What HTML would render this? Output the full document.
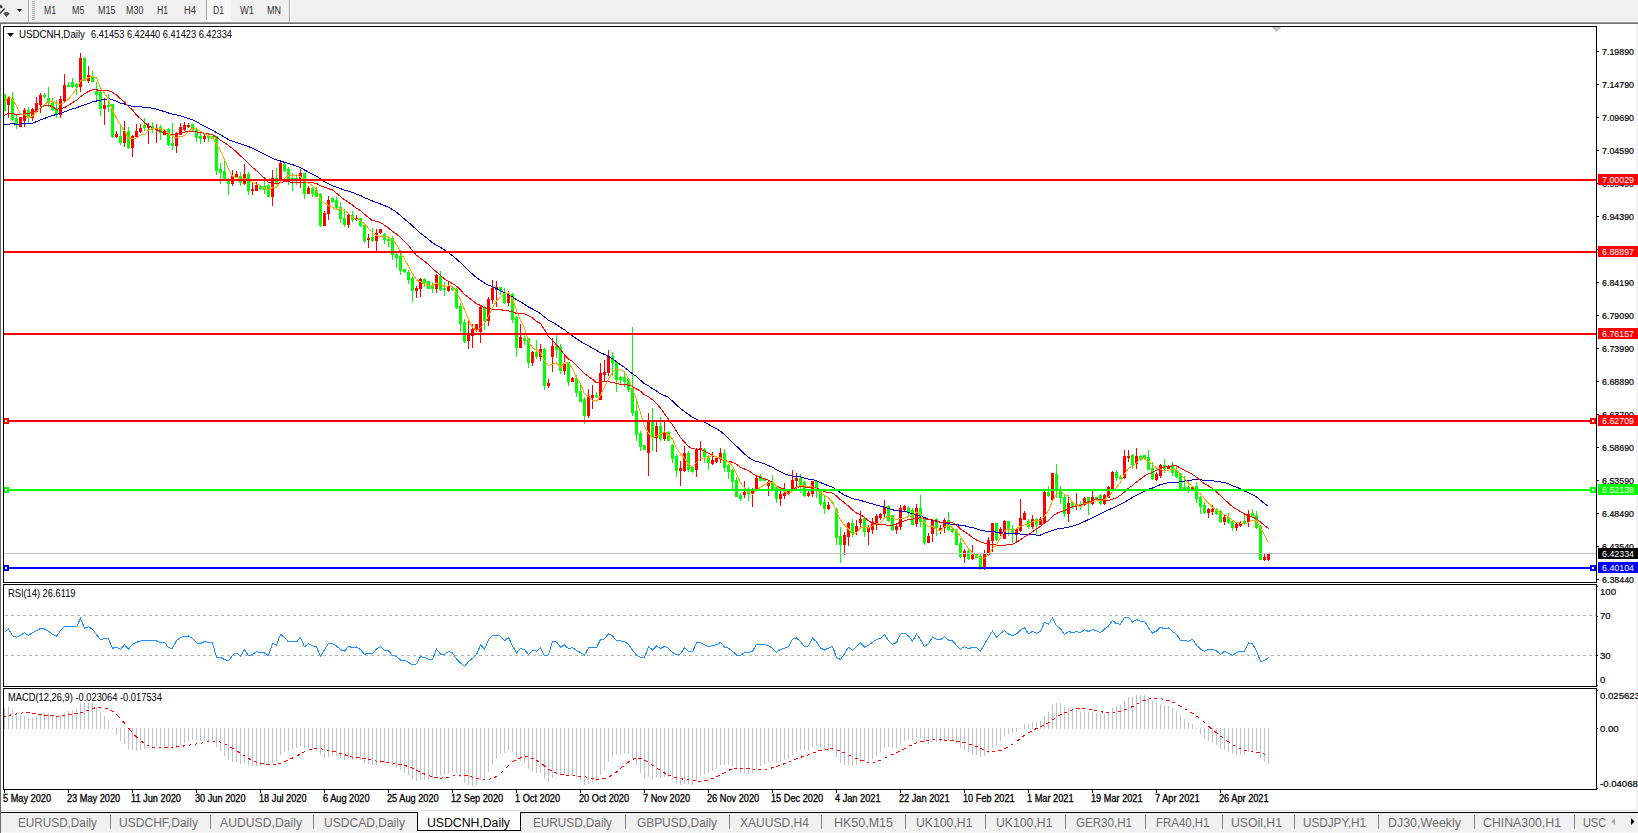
<!DOCTYPE html>
<html><head><meta charset="utf-8"><title>USDCNH,Daily</title>
<style>html,body{margin:0;padding:0;background:#fff;overflow:hidden;width:1638px;height:833px}svg{display:block}text{font-family:"Liberation Sans",sans-serif}</style>
</head><body>
<svg width="1638" height="833" viewBox="0 0 1638 833"><rect x="0" y="0" width="1638" height="833" fill="#ffffff"/>
<rect x="0" y="0" width="1638" height="22" fill="#f0f0f0"/>
<rect x="0" y="22" width="1638" height="1" fill="#a0a0a0"/>
<rect x="0" y="23" width="1638" height="1" fill="#6f6f6f"/>
<rect x="0" y="24" width="1" height="786" fill="#6a6a6a"/>
<rect x="1" y="24" width="1" height="786" fill="#f8f8f8"/>
<rect x="1636" y="24" width="2" height="786" fill="#f3f3f3"/>
<g shape-rendering="crispEdges"><rect x="4" y="94" width="1" height="17" fill="#00ff00"/><rect x="4" y="94" width="2" height="17" fill="#00ff00"/><rect x="8" y="96" width="1" height="22" fill="#ff0000"/><rect x="7" y="97" width="3" height="8" fill="#ff0000"/><rect x="12" y="92" width="1" height="29" fill="#00ff00"/><rect x="11" y="98" width="3" height="22" fill="#00ff00"/><rect x="16" y="115" width="1" height="14" fill="#00ff00"/><rect x="15" y="118" width="3" height="7" fill="#00ff00"/><rect x="20" y="117" width="1" height="10" fill="#ff0000"/><rect x="19" y="117" width="3" height="10" fill="#ff0000"/><rect x="24" y="108" width="1" height="19" fill="#ff0000"/><rect x="23" y="110" width="3" height="11" fill="#ff0000"/><rect x="28" y="107" width="1" height="16" fill="#00ff00"/><rect x="27" y="110" width="3" height="8" fill="#00ff00"/><rect x="32" y="108" width="1" height="13" fill="#ff0000"/><rect x="31" y="109" width="3" height="9" fill="#ff0000"/><rect x="36" y="97" width="1" height="16" fill="#ff0000"/><rect x="35" y="103" width="3" height="9" fill="#ff0000"/><rect x="40" y="93" width="1" height="20" fill="#ff0000"/><rect x="39" y="95" width="3" height="10" fill="#ff0000"/><rect x="44" y="93" width="1" height="5" fill="#00ff00"/><rect x="43" y="95" width="3" height="2" fill="#00ff00"/><rect x="48" y="87" width="1" height="20" fill="#00ff00"/><rect x="47" y="98" width="3" height="5" fill="#00ff00"/><rect x="52" y="98" width="1" height="13" fill="#00ff00"/><rect x="51" y="103" width="3" height="7" fill="#00ff00"/><rect x="56" y="100" width="1" height="18" fill="#00ff00"/><rect x="55" y="108" width="3" height="7" fill="#00ff00"/><rect x="60" y="96" width="1" height="22" fill="#ff0000"/><rect x="59" y="99" width="3" height="16" fill="#ff0000"/><rect x="64" y="74" width="1" height="28" fill="#ff0000"/><rect x="63" y="85" width="3" height="16" fill="#ff0000"/><rect x="68" y="82" width="1" height="5" fill="#00ff00"/><rect x="67" y="85" width="3" height="2" fill="#00ff00"/><rect x="72" y="78" width="1" height="10" fill="#00ff00"/><rect x="71" y="82" width="3" height="5" fill="#00ff00"/><rect x="76" y="83" width="1" height="12" fill="#00ff00"/><rect x="75" y="84" width="3" height="3" fill="#00ff00"/><rect x="80" y="53" width="1" height="39" fill="#ff0000"/><rect x="79" y="58" width="3" height="29" fill="#ff0000"/><rect x="84" y="57" width="1" height="24" fill="#00ff00"/><rect x="83" y="58" width="3" height="23" fill="#00ff00"/><rect x="88" y="66" width="1" height="17" fill="#ff0000"/><rect x="87" y="75" width="3" height="6" fill="#ff0000"/><rect x="92" y="71" width="1" height="11" fill="#00ff00"/><rect x="91" y="76" width="3" height="6" fill="#00ff00"/><rect x="96" y="82" width="1" height="19" fill="#00ff00"/><rect x="95" y="91" width="3" height="4" fill="#00ff00"/><rect x="100" y="91" width="1" height="25" fill="#00ff00"/><rect x="99" y="92" width="3" height="17" fill="#00ff00"/><rect x="104" y="98" width="1" height="27" fill="#ff0000"/><rect x="103" y="105" width="3" height="4" fill="#ff0000"/><rect x="108" y="94" width="1" height="18" fill="#00ff00"/><rect x="107" y="105" width="3" height="2" fill="#00ff00"/><rect x="112" y="104" width="1" height="34" fill="#00ff00"/><rect x="111" y="104" width="3" height="33" fill="#00ff00"/><rect x="116" y="131" width="1" height="7" fill="#ff0000"/><rect x="115" y="134" width="3" height="3" fill="#ff0000"/><rect x="120" y="125" width="1" height="20" fill="#00ff00"/><rect x="119" y="136" width="3" height="7" fill="#00ff00"/><rect x="124" y="121" width="1" height="26" fill="#ff0000"/><rect x="123" y="131" width="3" height="12" fill="#ff0000"/><rect x="128" y="127" width="1" height="22" fill="#00ff00"/><rect x="127" y="131" width="3" height="17" fill="#00ff00"/><rect x="132" y="135" width="1" height="22" fill="#ff0000"/><rect x="131" y="136" width="3" height="12" fill="#ff0000"/><rect x="136" y="124" width="1" height="14" fill="#ff0000"/><rect x="135" y="131" width="3" height="6" fill="#ff0000"/><rect x="140" y="124" width="1" height="9" fill="#ff0000"/><rect x="139" y="128" width="3" height="4" fill="#ff0000"/><rect x="144" y="118" width="1" height="13" fill="#00ff00"/><rect x="143" y="125" width="3" height="3" fill="#00ff00"/><rect x="148" y="123" width="1" height="21" fill="#ff0000"/><rect x="147" y="126" width="3" height="2" fill="#ff0000"/><rect x="152" y="122" width="1" height="11" fill="#00ff00"/><rect x="151" y="126" width="3" height="3" fill="#00ff00"/><rect x="156" y="124" width="1" height="19" fill="#ff0000"/><rect x="155" y="128" width="3" height="2" fill="#ff0000"/><rect x="160" y="125" width="1" height="15" fill="#00ff00"/><rect x="159" y="127" width="3" height="6" fill="#00ff00"/><rect x="164" y="130" width="1" height="5" fill="#ff0000"/><rect x="163" y="131" width="3" height="4" fill="#ff0000"/><rect x="168" y="128" width="1" height="18" fill="#00ff00"/><rect x="167" y="129" width="3" height="16" fill="#00ff00"/><rect x="172" y="123" width="1" height="27" fill="#00ff00"/><rect x="171" y="143" width="3" height="3" fill="#00ff00"/><rect x="176" y="132" width="1" height="21" fill="#ff0000"/><rect x="175" y="133" width="3" height="13" fill="#ff0000"/><rect x="180" y="123" width="1" height="12" fill="#ff0000"/><rect x="179" y="127" width="3" height="8" fill="#ff0000"/><rect x="184" y="122" width="1" height="9" fill="#ff0000"/><rect x="183" y="125" width="3" height="5" fill="#ff0000"/><rect x="188" y="123" width="1" height="5" fill="#ff0000"/><rect x="187" y="125" width="3" height="2" fill="#ff0000"/><rect x="192" y="124" width="1" height="7" fill="#00ff00"/><rect x="191" y="124" width="3" height="6" fill="#00ff00"/><rect x="196" y="128" width="1" height="14" fill="#00ff00"/><rect x="195" y="130" width="3" height="8" fill="#00ff00"/><rect x="200" y="133" width="1" height="11" fill="#00ff00"/><rect x="199" y="136" width="3" height="3" fill="#00ff00"/><rect x="204" y="134" width="1" height="8" fill="#ff0000"/><rect x="203" y="136" width="3" height="3" fill="#ff0000"/><rect x="208" y="134" width="1" height="8" fill="#00ff00"/><rect x="207" y="136" width="3" height="2" fill="#00ff00"/><rect x="212" y="136" width="1" height="3" fill="#00ff00"/><rect x="211" y="136" width="3" height="3" fill="#00ff00"/><rect x="216" y="136" width="1" height="39" fill="#00ff00"/><rect x="215" y="136" width="3" height="35" fill="#00ff00"/><rect x="220" y="163" width="1" height="21" fill="#00ff00"/><rect x="219" y="169" width="3" height="4" fill="#00ff00"/><rect x="224" y="161" width="1" height="19" fill="#00ff00"/><rect x="223" y="171" width="3" height="8" fill="#00ff00"/><rect x="228" y="178" width="1" height="17" fill="#00ff00"/><rect x="227" y="181" width="3" height="3" fill="#00ff00"/><rect x="232" y="170" width="1" height="16" fill="#ff0000"/><rect x="231" y="176" width="3" height="8" fill="#ff0000"/><rect x="236" y="171" width="1" height="7" fill="#ff0000"/><rect x="235" y="174" width="3" height="3" fill="#ff0000"/><rect x="240" y="172" width="1" height="14" fill="#00ff00"/><rect x="239" y="176" width="3" height="7" fill="#00ff00"/><rect x="244" y="164" width="1" height="21" fill="#ff0000"/><rect x="243" y="174" width="3" height="10" fill="#ff0000"/><rect x="248" y="172" width="1" height="23" fill="#00ff00"/><rect x="247" y="174" width="3" height="17" fill="#00ff00"/><rect x="252" y="182" width="1" height="13" fill="#ff0000"/><rect x="251" y="189" width="3" height="2" fill="#ff0000"/><rect x="256" y="182" width="1" height="9" fill="#ff0000"/><rect x="255" y="185" width="3" height="6" fill="#ff0000"/><rect x="260" y="185" width="1" height="5" fill="#00ff00"/><rect x="259" y="186" width="3" height="3" fill="#00ff00"/><rect x="264" y="181" width="1" height="13" fill="#00ff00"/><rect x="263" y="186" width="3" height="4" fill="#00ff00"/><rect x="268" y="184" width="1" height="13" fill="#00ff00"/><rect x="267" y="185" width="3" height="12" fill="#00ff00"/><rect x="272" y="170" width="1" height="36" fill="#ff0000"/><rect x="271" y="178" width="3" height="19" fill="#ff0000"/><rect x="276" y="168" width="1" height="17" fill="#00ff00"/><rect x="275" y="178" width="3" height="6" fill="#00ff00"/><rect x="280" y="160" width="1" height="21" fill="#ff0000"/><rect x="279" y="163" width="3" height="18" fill="#ff0000"/><rect x="284" y="163" width="1" height="9" fill="#00ff00"/><rect x="283" y="164" width="3" height="7" fill="#00ff00"/><rect x="288" y="167" width="1" height="18" fill="#00ff00"/><rect x="287" y="169" width="3" height="12" fill="#00ff00"/><rect x="292" y="173" width="1" height="18" fill="#00ff00"/><rect x="291" y="178" width="3" height="3" fill="#00ff00"/><rect x="296" y="175" width="1" height="10" fill="#00ff00"/><rect x="295" y="178" width="3" height="3" fill="#00ff00"/><rect x="300" y="169" width="1" height="19" fill="#ff0000"/><rect x="299" y="173" width="3" height="8" fill="#ff0000"/><rect x="304" y="173" width="1" height="26" fill="#00ff00"/><rect x="303" y="173" width="3" height="21" fill="#00ff00"/><rect x="308" y="186" width="1" height="8" fill="#ff0000"/><rect x="307" y="188" width="3" height="6" fill="#ff0000"/><rect x="312" y="187" width="1" height="10" fill="#00ff00"/><rect x="311" y="188" width="3" height="6" fill="#00ff00"/><rect x="316" y="187" width="1" height="10" fill="#00ff00"/><rect x="315" y="190" width="3" height="7" fill="#00ff00"/><rect x="320" y="193" width="1" height="34" fill="#00ff00"/><rect x="319" y="194" width="3" height="32" fill="#00ff00"/><rect x="324" y="211" width="1" height="15" fill="#ff0000"/><rect x="323" y="213" width="3" height="13" fill="#ff0000"/><rect x="328" y="196" width="1" height="24" fill="#ff0000"/><rect x="327" y="200" width="3" height="14" fill="#ff0000"/><rect x="332" y="197" width="1" height="6" fill="#00ff00"/><rect x="331" y="198" width="3" height="4" fill="#00ff00"/><rect x="336" y="197" width="1" height="12" fill="#00ff00"/><rect x="335" y="200" width="3" height="8" fill="#00ff00"/><rect x="340" y="202" width="1" height="21" fill="#00ff00"/><rect x="339" y="207" width="3" height="12" fill="#00ff00"/><rect x="344" y="209" width="1" height="18" fill="#00ff00"/><rect x="343" y="218" width="3" height="7" fill="#00ff00"/><rect x="348" y="214" width="1" height="14" fill="#ff0000"/><rect x="347" y="215" width="3" height="10" fill="#ff0000"/><rect x="352" y="211" width="1" height="11" fill="#00ff00"/><rect x="351" y="215" width="3" height="5" fill="#00ff00"/><rect x="356" y="215" width="1" height="6" fill="#ff0000"/><rect x="355" y="218" width="3" height="2" fill="#ff0000"/><rect x="360" y="218" width="1" height="9" fill="#00ff00"/><rect x="359" y="218" width="3" height="8" fill="#00ff00"/><rect x="364" y="224" width="1" height="19" fill="#00ff00"/><rect x="363" y="225" width="3" height="16" fill="#00ff00"/><rect x="368" y="234" width="1" height="14" fill="#ff0000"/><rect x="367" y="238" width="3" height="2" fill="#ff0000"/><rect x="372" y="228" width="1" height="14" fill="#00ff00"/><rect x="371" y="237" width="3" height="4" fill="#00ff00"/><rect x="376" y="229" width="1" height="23" fill="#ff0000"/><rect x="375" y="233" width="3" height="8" fill="#ff0000"/><rect x="380" y="229" width="1" height="5" fill="#ff0000"/><rect x="379" y="229" width="3" height="4" fill="#ff0000"/><rect x="384" y="233" width="1" height="11" fill="#00ff00"/><rect x="383" y="234" width="3" height="6" fill="#00ff00"/><rect x="388" y="237" width="1" height="10" fill="#00ff00"/><rect x="387" y="239" width="3" height="2" fill="#00ff00"/><rect x="392" y="236" width="1" height="24" fill="#00ff00"/><rect x="391" y="238" width="3" height="17" fill="#00ff00"/><rect x="396" y="253" width="1" height="15" fill="#00ff00"/><rect x="395" y="254" width="3" height="4" fill="#00ff00"/><rect x="400" y="250" width="1" height="25" fill="#00ff00"/><rect x="399" y="256" width="3" height="15" fill="#00ff00"/><rect x="404" y="269" width="1" height="4" fill="#00ff00"/><rect x="403" y="269" width="3" height="3" fill="#00ff00"/><rect x="408" y="270" width="1" height="14" fill="#00ff00"/><rect x="407" y="272" width="3" height="8" fill="#00ff00"/><rect x="412" y="276" width="1" height="26" fill="#00ff00"/><rect x="411" y="278" width="3" height="13" fill="#00ff00"/><rect x="416" y="286" width="1" height="12" fill="#ff0000"/><rect x="415" y="288" width="3" height="3" fill="#ff0000"/><rect x="420" y="278" width="1" height="19" fill="#ff0000"/><rect x="419" y="279" width="3" height="10" fill="#ff0000"/><rect x="424" y="278" width="1" height="9" fill="#00ff00"/><rect x="423" y="279" width="3" height="4" fill="#00ff00"/><rect x="428" y="281" width="1" height="8" fill="#00ff00"/><rect x="427" y="281" width="3" height="8" fill="#00ff00"/><rect x="432" y="282" width="1" height="11" fill="#00ff00"/><rect x="431" y="285" width="3" height="4" fill="#00ff00"/><rect x="436" y="274" width="1" height="19" fill="#ff0000"/><rect x="435" y="275" width="3" height="14" fill="#ff0000"/><rect x="440" y="271" width="1" height="20" fill="#00ff00"/><rect x="439" y="276" width="3" height="14" fill="#00ff00"/><rect x="444" y="282" width="1" height="14" fill="#00ff00"/><rect x="443" y="288" width="3" height="2" fill="#00ff00"/><rect x="448" y="281" width="1" height="11" fill="#ff0000"/><rect x="447" y="286" width="3" height="5" fill="#ff0000"/><rect x="452" y="286" width="1" height="5" fill="#00ff00"/><rect x="451" y="288" width="3" height="2" fill="#00ff00"/><rect x="456" y="288" width="1" height="21" fill="#00ff00"/><rect x="455" y="289" width="3" height="19" fill="#00ff00"/><rect x="460" y="303" width="1" height="29" fill="#00ff00"/><rect x="459" y="306" width="3" height="18" fill="#00ff00"/><rect x="464" y="319" width="1" height="24" fill="#00ff00"/><rect x="463" y="322" width="3" height="20" fill="#00ff00"/><rect x="468" y="321" width="1" height="28" fill="#ff0000"/><rect x="467" y="334" width="3" height="7" fill="#ff0000"/><rect x="472" y="324" width="1" height="24" fill="#ff0000"/><rect x="471" y="329" width="3" height="7" fill="#ff0000"/><rect x="476" y="324" width="1" height="8" fill="#ff0000"/><rect x="475" y="324" width="3" height="7" fill="#ff0000"/><rect x="480" y="306" width="1" height="37" fill="#ff0000"/><rect x="479" y="307" width="3" height="25" fill="#ff0000"/><rect x="484" y="306" width="1" height="24" fill="#00ff00"/><rect x="483" y="307" width="3" height="14" fill="#00ff00"/><rect x="488" y="297" width="1" height="29" fill="#ff0000"/><rect x="487" y="299" width="3" height="22" fill="#ff0000"/><rect x="492" y="280" width="1" height="24" fill="#ff0000"/><rect x="491" y="288" width="3" height="12" fill="#ff0000"/><rect x="496" y="281" width="1" height="26" fill="#ff0000"/><rect x="495" y="287" width="3" height="3" fill="#ff0000"/><rect x="500" y="287" width="1" height="8" fill="#00ff00"/><rect x="499" y="287" width="3" height="4" fill="#00ff00"/><rect x="504" y="288" width="1" height="16" fill="#00ff00"/><rect x="503" y="292" width="3" height="11" fill="#00ff00"/><rect x="508" y="291" width="1" height="15" fill="#ff0000"/><rect x="507" y="294" width="3" height="9" fill="#ff0000"/><rect x="512" y="293" width="1" height="30" fill="#00ff00"/><rect x="511" y="294" width="3" height="26" fill="#00ff00"/><rect x="516" y="316" width="1" height="41" fill="#00ff00"/><rect x="515" y="317" width="3" height="31" fill="#00ff00"/><rect x="520" y="324" width="1" height="24" fill="#ff0000"/><rect x="519" y="337" width="3" height="11" fill="#ff0000"/><rect x="524" y="336" width="1" height="9" fill="#00ff00"/><rect x="523" y="338" width="3" height="3" fill="#00ff00"/><rect x="528" y="338" width="1" height="30" fill="#00ff00"/><rect x="527" y="338" width="3" height="25" fill="#00ff00"/><rect x="532" y="351" width="1" height="15" fill="#ff0000"/><rect x="531" y="352" width="3" height="11" fill="#ff0000"/><rect x="536" y="340" width="1" height="19" fill="#00ff00"/><rect x="535" y="352" width="3" height="5" fill="#00ff00"/><rect x="540" y="344" width="1" height="17" fill="#ff0000"/><rect x="539" y="349" width="3" height="8" fill="#ff0000"/><rect x="544" y="348" width="1" height="42" fill="#00ff00"/><rect x="543" y="349" width="3" height="37" fill="#00ff00"/><rect x="548" y="379" width="1" height="9" fill="#ff0000"/><rect x="547" y="383" width="3" height="3" fill="#ff0000"/><rect x="552" y="338" width="1" height="34" fill="#ff0000"/><rect x="551" y="346" width="3" height="11" fill="#ff0000"/><rect x="556" y="335" width="1" height="23" fill="#00ff00"/><rect x="555" y="346" width="3" height="4" fill="#00ff00"/><rect x="560" y="344" width="1" height="30" fill="#00ff00"/><rect x="559" y="347" width="3" height="24" fill="#00ff00"/><rect x="564" y="354" width="1" height="21" fill="#ff0000"/><rect x="563" y="364" width="3" height="7" fill="#ff0000"/><rect x="568" y="362" width="1" height="24" fill="#00ff00"/><rect x="567" y="362" width="3" height="20" fill="#00ff00"/><rect x="572" y="377" width="1" height="5" fill="#ff0000"/><rect x="571" y="378" width="3" height="4" fill="#ff0000"/><rect x="576" y="375" width="1" height="22" fill="#00ff00"/><rect x="575" y="378" width="3" height="15" fill="#00ff00"/><rect x="580" y="385" width="1" height="17" fill="#00ff00"/><rect x="579" y="391" width="3" height="11" fill="#00ff00"/><rect x="584" y="397" width="1" height="27" fill="#00ff00"/><rect x="583" y="399" width="3" height="17" fill="#00ff00"/><rect x="588" y="389" width="1" height="29" fill="#ff0000"/><rect x="587" y="396" width="3" height="20" fill="#ff0000"/><rect x="592" y="385" width="1" height="24" fill="#ff0000"/><rect x="591" y="395" width="3" height="3" fill="#ff0000"/><rect x="596" y="392" width="1" height="6" fill="#00ff00"/><rect x="595" y="395" width="3" height="2" fill="#00ff00"/><rect x="600" y="363" width="1" height="37" fill="#ff0000"/><rect x="599" y="373" width="3" height="27" fill="#ff0000"/><rect x="604" y="360" width="1" height="22" fill="#ff0000"/><rect x="603" y="372" width="3" height="3" fill="#ff0000"/><rect x="608" y="350" width="1" height="26" fill="#ff0000"/><rect x="607" y="356" width="3" height="17" fill="#ff0000"/><rect x="612" y="352" width="1" height="24" fill="#00ff00"/><rect x="611" y="356" width="3" height="7" fill="#00ff00"/><rect x="616" y="361" width="1" height="31" fill="#00ff00"/><rect x="615" y="362" width="3" height="18" fill="#00ff00"/><rect x="620" y="376" width="1" height="8" fill="#00ff00"/><rect x="619" y="377" width="3" height="3" fill="#00ff00"/><rect x="624" y="372" width="1" height="15" fill="#00ff00"/><rect x="623" y="377" width="3" height="5" fill="#00ff00"/><rect x="628" y="378" width="1" height="14" fill="#00ff00"/><rect x="627" y="379" width="3" height="11" fill="#00ff00"/><rect x="632" y="327" width="1" height="89" fill="#00ff00"/><rect x="631" y="388" width="3" height="25" fill="#00ff00"/><rect x="636" y="400" width="1" height="41" fill="#00ff00"/><rect x="635" y="411" width="3" height="24" fill="#00ff00"/><rect x="640" y="431" width="1" height="20" fill="#00ff00"/><rect x="639" y="433" width="3" height="14" fill="#00ff00"/><rect x="644" y="445" width="1" height="5" fill="#00ff00"/><rect x="643" y="445" width="3" height="5" fill="#00ff00"/><rect x="648" y="413" width="1" height="63" fill="#ff0000"/><rect x="647" y="422" width="3" height="31" fill="#ff0000"/><rect x="652" y="408" width="1" height="43" fill="#00ff00"/><rect x="651" y="422" width="3" height="16" fill="#00ff00"/><rect x="656" y="422" width="1" height="30" fill="#ff0000"/><rect x="655" y="426" width="3" height="12" fill="#ff0000"/><rect x="660" y="417" width="1" height="24" fill="#00ff00"/><rect x="659" y="426" width="3" height="13" fill="#00ff00"/><rect x="664" y="422" width="1" height="19" fill="#ff0000"/><rect x="663" y="432" width="3" height="7" fill="#ff0000"/><rect x="668" y="431" width="1" height="10" fill="#00ff00"/><rect x="667" y="432" width="3" height="9" fill="#00ff00"/><rect x="672" y="444" width="1" height="19" fill="#00ff00"/><rect x="671" y="445" width="3" height="14" fill="#00ff00"/><rect x="676" y="454" width="1" height="23" fill="#00ff00"/><rect x="675" y="456" width="3" height="15" fill="#00ff00"/><rect x="680" y="461" width="1" height="25" fill="#ff0000"/><rect x="679" y="468" width="3" height="3" fill="#ff0000"/><rect x="684" y="446" width="1" height="26" fill="#ff0000"/><rect x="683" y="453" width="3" height="18" fill="#ff0000"/><rect x="688" y="451" width="1" height="21" fill="#00ff00"/><rect x="687" y="453" width="3" height="17" fill="#00ff00"/><rect x="692" y="467" width="1" height="6" fill="#00ff00"/><rect x="691" y="467" width="3" height="5" fill="#00ff00"/><rect x="696" y="448" width="1" height="29" fill="#ff0000"/><rect x="695" y="449" width="3" height="21" fill="#ff0000"/><rect x="700" y="441" width="1" height="20" fill="#ff0000"/><rect x="699" y="448" width="3" height="2" fill="#ff0000"/><rect x="704" y="448" width="1" height="15" fill="#00ff00"/><rect x="703" y="449" width="3" height="8" fill="#00ff00"/><rect x="708" y="455" width="1" height="15" fill="#00ff00"/><rect x="707" y="456" width="3" height="7" fill="#00ff00"/><rect x="712" y="452" width="1" height="13" fill="#ff0000"/><rect x="711" y="460" width="3" height="4" fill="#ff0000"/><rect x="716" y="456" width="1" height="7" fill="#ff0000"/><rect x="715" y="458" width="3" height="4" fill="#ff0000"/><rect x="720" y="448" width="1" height="15" fill="#ff0000"/><rect x="719" y="453" width="3" height="6" fill="#ff0000"/><rect x="724" y="449" width="1" height="23" fill="#00ff00"/><rect x="723" y="453" width="3" height="15" fill="#00ff00"/><rect x="728" y="464" width="1" height="15" fill="#00ff00"/><rect x="727" y="465" width="3" height="7" fill="#00ff00"/><rect x="732" y="469" width="1" height="21" fill="#00ff00"/><rect x="731" y="470" width="3" height="12" fill="#00ff00"/><rect x="736" y="477" width="1" height="20" fill="#00ff00"/><rect x="735" y="480" width="3" height="17" fill="#00ff00"/><rect x="740" y="493" width="1" height="8" fill="#00ff00"/><rect x="739" y="495" width="3" height="4" fill="#00ff00"/><rect x="744" y="481" width="1" height="17" fill="#ff0000"/><rect x="743" y="492" width="3" height="3" fill="#ff0000"/><rect x="748" y="487" width="1" height="14" fill="#00ff00"/><rect x="747" y="491" width="3" height="3" fill="#00ff00"/><rect x="752" y="488" width="1" height="19" fill="#ff0000"/><rect x="751" y="491" width="3" height="3" fill="#ff0000"/><rect x="756" y="476" width="1" height="14" fill="#ff0000"/><rect x="755" y="478" width="3" height="12" fill="#ff0000"/><rect x="760" y="474" width="1" height="7" fill="#00ff00"/><rect x="759" y="476" width="3" height="5" fill="#00ff00"/><rect x="764" y="478" width="1" height="3" fill="#00ff00"/><rect x="763" y="478" width="3" height="3" fill="#00ff00"/><rect x="768" y="480" width="1" height="16" fill="#ff0000"/><rect x="767" y="482" width="3" height="4" fill="#ff0000"/><rect x="772" y="475" width="1" height="15" fill="#00ff00"/><rect x="771" y="482" width="3" height="7" fill="#00ff00"/><rect x="776" y="486" width="1" height="17" fill="#00ff00"/><rect x="775" y="487" width="3" height="12" fill="#00ff00"/><rect x="780" y="491" width="1" height="15" fill="#ff0000"/><rect x="779" y="494" width="3" height="5" fill="#ff0000"/><rect x="784" y="483" width="1" height="16" fill="#ff0000"/><rect x="783" y="493" width="3" height="3" fill="#ff0000"/><rect x="788" y="489" width="1" height="6" fill="#ff0000"/><rect x="787" y="491" width="3" height="3" fill="#ff0000"/><rect x="792" y="470" width="1" height="20" fill="#ff0000"/><rect x="791" y="480" width="3" height="10" fill="#ff0000"/><rect x="796" y="473" width="1" height="18" fill="#ff0000"/><rect x="795" y="478" width="3" height="3" fill="#ff0000"/><rect x="800" y="474" width="1" height="19" fill="#00ff00"/><rect x="799" y="478" width="3" height="7" fill="#00ff00"/><rect x="804" y="481" width="1" height="16" fill="#00ff00"/><rect x="803" y="482" width="3" height="14" fill="#00ff00"/><rect x="808" y="491" width="1" height="6" fill="#ff0000"/><rect x="807" y="493" width="3" height="3" fill="#ff0000"/><rect x="812" y="481" width="1" height="16" fill="#ff0000"/><rect x="811" y="481" width="3" height="13" fill="#ff0000"/><rect x="816" y="481" width="1" height="17" fill="#00ff00"/><rect x="815" y="481" width="3" height="9" fill="#00ff00"/><rect x="820" y="491" width="1" height="15" fill="#00ff00"/><rect x="819" y="491" width="3" height="13" fill="#00ff00"/><rect x="824" y="496" width="1" height="18" fill="#00ff00"/><rect x="823" y="502" width="3" height="7" fill="#00ff00"/><rect x="828" y="502" width="1" height="8" fill="#ff0000"/><rect x="827" y="505" width="3" height="4" fill="#ff0000"/><rect x="832" y="502" width="1" height="2" fill="#00ff00"/><rect x="831" y="502" width="3" height="1" fill="#00ff00"/><rect x="836" y="508" width="1" height="37" fill="#00ff00"/><rect x="835" y="509" width="3" height="29" fill="#00ff00"/><rect x="840" y="527" width="1" height="36" fill="#00ff00"/><rect x="839" y="536" width="3" height="9" fill="#00ff00"/><rect x="844" y="532" width="1" height="23" fill="#ff0000"/><rect x="843" y="535" width="3" height="10" fill="#ff0000"/><rect x="848" y="522" width="1" height="24" fill="#ff0000"/><rect x="847" y="523" width="3" height="14" fill="#ff0000"/><rect x="852" y="519" width="1" height="18" fill="#00ff00"/><rect x="851" y="523" width="3" height="11" fill="#00ff00"/><rect x="856" y="520" width="1" height="15" fill="#ff0000"/><rect x="855" y="526" width="3" height="6" fill="#ff0000"/><rect x="860" y="511" width="1" height="16" fill="#ff0000"/><rect x="859" y="519" width="3" height="4" fill="#ff0000"/><rect x="864" y="518" width="1" height="19" fill="#00ff00"/><rect x="863" y="518" width="3" height="14" fill="#00ff00"/><rect x="868" y="525" width="1" height="20" fill="#ff0000"/><rect x="867" y="528" width="3" height="4" fill="#ff0000"/><rect x="872" y="518" width="1" height="16" fill="#ff0000"/><rect x="871" y="522" width="3" height="8" fill="#ff0000"/><rect x="876" y="514" width="1" height="16" fill="#ff0000"/><rect x="875" y="516" width="3" height="7" fill="#ff0000"/><rect x="880" y="513" width="1" height="7" fill="#ff0000"/><rect x="879" y="514" width="3" height="4" fill="#ff0000"/><rect x="884" y="500" width="1" height="17" fill="#ff0000"/><rect x="883" y="507" width="3" height="7" fill="#ff0000"/><rect x="888" y="505" width="1" height="17" fill="#00ff00"/><rect x="887" y="506" width="3" height="15" fill="#00ff00"/><rect x="892" y="515" width="1" height="16" fill="#00ff00"/><rect x="891" y="515" width="3" height="15" fill="#00ff00"/><rect x="896" y="525" width="1" height="9" fill="#ff0000"/><rect x="895" y="526" width="3" height="4" fill="#ff0000"/><rect x="900" y="505" width="1" height="25" fill="#ff0000"/><rect x="899" y="508" width="3" height="19" fill="#ff0000"/><rect x="904" y="505" width="1" height="6" fill="#ff0000"/><rect x="903" y="506" width="3" height="4" fill="#ff0000"/><rect x="908" y="506" width="1" height="11" fill="#00ff00"/><rect x="907" y="508" width="3" height="5" fill="#00ff00"/><rect x="912" y="508" width="1" height="17" fill="#00ff00"/><rect x="911" y="510" width="3" height="15" fill="#00ff00"/><rect x="916" y="504" width="1" height="23" fill="#ff0000"/><rect x="915" y="508" width="3" height="16" fill="#ff0000"/><rect x="920" y="495" width="1" height="32" fill="#00ff00"/><rect x="919" y="508" width="3" height="14" fill="#00ff00"/><rect x="924" y="518" width="1" height="27" fill="#00ff00"/><rect x="923" y="518" width="3" height="25" fill="#00ff00"/><rect x="928" y="533" width="1" height="10" fill="#ff0000"/><rect x="927" y="536" width="3" height="7" fill="#ff0000"/><rect x="932" y="519" width="1" height="23" fill="#ff0000"/><rect x="931" y="520" width="3" height="14" fill="#ff0000"/><rect x="936" y="518" width="1" height="18" fill="#00ff00"/><rect x="935" y="519" width="3" height="9" fill="#00ff00"/><rect x="940" y="525" width="1" height="9" fill="#ff0000"/><rect x="939" y="528" width="3" height="2" fill="#ff0000"/><rect x="944" y="518" width="1" height="15" fill="#ff0000"/><rect x="943" y="520" width="3" height="8" fill="#ff0000"/><rect x="948" y="512" width="1" height="19" fill="#00ff00"/><rect x="947" y="520" width="3" height="10" fill="#00ff00"/><rect x="952" y="527" width="1" height="6" fill="#00ff00"/><rect x="951" y="529" width="3" height="3" fill="#00ff00"/><rect x="956" y="529" width="1" height="16" fill="#00ff00"/><rect x="955" y="530" width="3" height="15" fill="#00ff00"/><rect x="960" y="538" width="1" height="20" fill="#00ff00"/><rect x="959" y="543" width="3" height="14" fill="#00ff00"/><rect x="964" y="549" width="1" height="14" fill="#ff0000"/><rect x="963" y="551" width="3" height="6" fill="#ff0000"/><rect x="968" y="548" width="1" height="12" fill="#00ff00"/><rect x="967" y="551" width="3" height="8" fill="#00ff00"/><rect x="972" y="545" width="1" height="15" fill="#ff0000"/><rect x="971" y="555" width="3" height="4" fill="#ff0000"/><rect x="976" y="554" width="1" height="4" fill="#00ff00"/><rect x="975" y="554" width="3" height="4" fill="#00ff00"/><rect x="980" y="554" width="1" height="16" fill="#00ff00"/><rect x="979" y="556" width="3" height="11" fill="#00ff00"/><rect x="984" y="550" width="1" height="20" fill="#ff0000"/><rect x="983" y="554" width="3" height="13" fill="#ff0000"/><rect x="988" y="537" width="1" height="19" fill="#ff0000"/><rect x="987" y="540" width="3" height="15" fill="#ff0000"/><rect x="992" y="523" width="1" height="29" fill="#ff0000"/><rect x="991" y="523" width="3" height="18" fill="#ff0000"/><rect x="996" y="523" width="1" height="18" fill="#00ff00"/><rect x="995" y="523" width="3" height="17" fill="#00ff00"/><rect x="1000" y="527" width="1" height="9" fill="#ff0000"/><rect x="999" y="529" width="3" height="5" fill="#ff0000"/><rect x="1004" y="520" width="1" height="19" fill="#ff0000"/><rect x="1003" y="521" width="3" height="18" fill="#ff0000"/><rect x="1008" y="521" width="1" height="15" fill="#00ff00"/><rect x="1007" y="521" width="3" height="9" fill="#00ff00"/><rect x="1012" y="525" width="1" height="18" fill="#00ff00"/><rect x="1011" y="529" width="3" height="5" fill="#00ff00"/><rect x="1016" y="528" width="1" height="15" fill="#ff0000"/><rect x="1015" y="529" width="3" height="6" fill="#ff0000"/><rect x="1020" y="499" width="1" height="33" fill="#ff0000"/><rect x="1019" y="518" width="3" height="13" fill="#ff0000"/><rect x="1024" y="511" width="1" height="9" fill="#ff0000"/><rect x="1023" y="513" width="3" height="7" fill="#ff0000"/><rect x="1028" y="519" width="1" height="10" fill="#00ff00"/><rect x="1027" y="521" width="3" height="6" fill="#00ff00"/><rect x="1032" y="515" width="1" height="14" fill="#ff0000"/><rect x="1031" y="519" width="3" height="8" fill="#ff0000"/><rect x="1036" y="518" width="1" height="16" fill="#00ff00"/><rect x="1035" y="519" width="3" height="6" fill="#00ff00"/><rect x="1040" y="517" width="1" height="8" fill="#ff0000"/><rect x="1039" y="519" width="3" height="6" fill="#ff0000"/><rect x="1044" y="490" width="1" height="34" fill="#ff0000"/><rect x="1043" y="492" width="3" height="31" fill="#ff0000"/><rect x="1048" y="486" width="1" height="11" fill="#00ff00"/><rect x="1047" y="492" width="3" height="4" fill="#00ff00"/><rect x="1052" y="473" width="1" height="28" fill="#ff0000"/><rect x="1051" y="473" width="3" height="27" fill="#ff0000"/><rect x="1056" y="464" width="1" height="34" fill="#00ff00"/><rect x="1055" y="474" width="3" height="17" fill="#00ff00"/><rect x="1060" y="486" width="1" height="18" fill="#00ff00"/><rect x="1059" y="490" width="3" height="8" fill="#00ff00"/><rect x="1064" y="495" width="1" height="22" fill="#00ff00"/><rect x="1063" y="497" width="3" height="17" fill="#00ff00"/><rect x="1068" y="495" width="1" height="27" fill="#ff0000"/><rect x="1067" y="503" width="3" height="11" fill="#ff0000"/><rect x="1072" y="502" width="1" height="7" fill="#00ff00"/><rect x="1071" y="502" width="3" height="5" fill="#00ff00"/><rect x="1076" y="493" width="1" height="17" fill="#ff0000"/><rect x="1075" y="504" width="3" height="2" fill="#ff0000"/><rect x="1080" y="501" width="1" height="9" fill="#00ff00"/><rect x="1079" y="504" width="3" height="3" fill="#00ff00"/><rect x="1084" y="497" width="1" height="9" fill="#ff0000"/><rect x="1083" y="498" width="3" height="7" fill="#ff0000"/><rect x="1088" y="497" width="1" height="18" fill="#00ff00"/><rect x="1087" y="497" width="3" height="6" fill="#00ff00"/><rect x="1092" y="491" width="1" height="14" fill="#ff0000"/><rect x="1091" y="497" width="3" height="7" fill="#ff0000"/><rect x="1096" y="497" width="1" height="4" fill="#00ff00"/><rect x="1095" y="497" width="3" height="3" fill="#00ff00"/><rect x="1100" y="494" width="1" height="11" fill="#00ff00"/><rect x="1099" y="495" width="3" height="9" fill="#00ff00"/><rect x="1104" y="494" width="1" height="11" fill="#ff0000"/><rect x="1103" y="495" width="3" height="9" fill="#ff0000"/><rect x="1108" y="486" width="1" height="12" fill="#ff0000"/><rect x="1107" y="487" width="3" height="11" fill="#ff0000"/><rect x="1112" y="471" width="1" height="19" fill="#ff0000"/><rect x="1111" y="472" width="3" height="18" fill="#ff0000"/><rect x="1116" y="470" width="1" height="11" fill="#00ff00"/><rect x="1115" y="472" width="3" height="6" fill="#00ff00"/><rect x="1120" y="475" width="1" height="4" fill="#00ff00"/><rect x="1119" y="477" width="3" height="2" fill="#00ff00"/><rect x="1124" y="450" width="1" height="29" fill="#ff0000"/><rect x="1123" y="456" width="3" height="22" fill="#ff0000"/><rect x="1128" y="450" width="1" height="12" fill="#ff0000"/><rect x="1127" y="456" width="3" height="2" fill="#ff0000"/><rect x="1132" y="454" width="1" height="15" fill="#00ff00"/><rect x="1131" y="455" width="3" height="10" fill="#00ff00"/><rect x="1136" y="448" width="1" height="21" fill="#ff0000"/><rect x="1135" y="456" width="3" height="8" fill="#ff0000"/><rect x="1140" y="455" width="1" height="6" fill="#00ff00"/><rect x="1139" y="456" width="3" height="4" fill="#00ff00"/><rect x="1144" y="455" width="1" height="5" fill="#00ff00"/><rect x="1143" y="455" width="3" height="4" fill="#00ff00"/><rect x="1148" y="450" width="1" height="20" fill="#00ff00"/><rect x="1147" y="457" width="3" height="13" fill="#00ff00"/><rect x="1152" y="462" width="1" height="18" fill="#00ff00"/><rect x="1151" y="468" width="3" height="11" fill="#00ff00"/><rect x="1156" y="472" width="1" height="9" fill="#ff0000"/><rect x="1155" y="474" width="3" height="6" fill="#ff0000"/><rect x="1160" y="464" width="1" height="14" fill="#ff0000"/><rect x="1159" y="465" width="3" height="11" fill="#ff0000"/><rect x="1164" y="459" width="1" height="14" fill="#00ff00"/><rect x="1163" y="465" width="3" height="4" fill="#00ff00"/><rect x="1168" y="465" width="1" height="4" fill="#ff0000"/><rect x="1167" y="466" width="3" height="3" fill="#ff0000"/><rect x="1172" y="462" width="1" height="14" fill="#00ff00"/><rect x="1171" y="465" width="3" height="8" fill="#00ff00"/><rect x="1176" y="466" width="1" height="12" fill="#00ff00"/><rect x="1175" y="470" width="3" height="7" fill="#00ff00"/><rect x="1180" y="473" width="1" height="17" fill="#00ff00"/><rect x="1179" y="474" width="3" height="15" fill="#00ff00"/><rect x="1184" y="476" width="1" height="14" fill="#00ff00"/><rect x="1183" y="487" width="3" height="2" fill="#00ff00"/><rect x="1188" y="481" width="1" height="12" fill="#00ff00"/><rect x="1187" y="487" width="3" height="4" fill="#00ff00"/><rect x="1192" y="486" width="1" height="4" fill="#ff0000"/><rect x="1191" y="487" width="3" height="2" fill="#ff0000"/><rect x="1196" y="482" width="1" height="21" fill="#00ff00"/><rect x="1195" y="486" width="3" height="13" fill="#00ff00"/><rect x="1200" y="496" width="1" height="18" fill="#00ff00"/><rect x="1199" y="497" width="3" height="10" fill="#00ff00"/><rect x="1204" y="502" width="1" height="12" fill="#00ff00"/><rect x="1203" y="505" width="3" height="8" fill="#00ff00"/><rect x="1208" y="508" width="1" height="10" fill="#ff0000"/><rect x="1207" y="509" width="3" height="4" fill="#ff0000"/><rect x="1212" y="505" width="1" height="10" fill="#ff0000"/><rect x="1211" y="509" width="3" height="3" fill="#ff0000"/><rect x="1216" y="508" width="1" height="7" fill="#00ff00"/><rect x="1215" y="509" width="3" height="5" fill="#00ff00"/><rect x="1220" y="510" width="1" height="13" fill="#00ff00"/><rect x="1219" y="511" width="3" height="11" fill="#00ff00"/><rect x="1224" y="514" width="1" height="11" fill="#ff0000"/><rect x="1223" y="517" width="3" height="5" fill="#ff0000"/><rect x="1228" y="513" width="1" height="11" fill="#00ff00"/><rect x="1227" y="517" width="3" height="6" fill="#00ff00"/><rect x="1232" y="520" width="1" height="11" fill="#00ff00"/><rect x="1231" y="521" width="3" height="7" fill="#00ff00"/><rect x="1236" y="523" width="1" height="8" fill="#ff0000"/><rect x="1235" y="524" width="3" height="4" fill="#ff0000"/><rect x="1240" y="521" width="1" height="6" fill="#ff0000"/><rect x="1239" y="523" width="3" height="3" fill="#ff0000"/><rect x="1244" y="515" width="1" height="9" fill="#00ff00"/><rect x="1243" y="521" width="3" height="3" fill="#00ff00"/><rect x="1248" y="510" width="1" height="17" fill="#ff0000"/><rect x="1247" y="514" width="3" height="8" fill="#ff0000"/><rect x="1252" y="509" width="1" height="8" fill="#00ff00"/><rect x="1251" y="513" width="3" height="3" fill="#00ff00"/><rect x="1256" y="511" width="1" height="18" fill="#00ff00"/><rect x="1255" y="515" width="3" height="13" fill="#00ff00"/><rect x="1260" y="525" width="1" height="35" fill="#00ff00"/><rect x="1259" y="526" width="3" height="34" fill="#00ff00"/><rect x="1264" y="553" width="1" height="8" fill="#ff0000"/><rect x="1263" y="557" width="3" height="3" fill="#ff0000"/><rect x="1268" y="553" width="1" height="8" fill="#ff0000"/><rect x="1267" y="553" width="3" height="7" fill="#ff0000"/></g>
<polyline points="4.5,124.68 8.5,124.06 12.5,123.95 16.5,124.07 20.5,124.04 24.5,123.82 28.5,123.47 32.5,123.10 36.5,121.69 40.5,119.86 44.5,118.40 48.5,116.77 52.5,115.61 56.5,114.40 60.5,113.47 64.5,111.93 68.5,110.29 72.5,108.68 76.5,107.93 80.5,106.10 84.5,104.84 88.5,103.54 92.5,101.86 96.5,101.00 100.5,100.13 104.5,99.47 108.5,98.62 112.5,99.69 116.5,101.17 120.5,103.29 124.5,104.00 128.5,105.66 132.5,106.22 136.5,106.45 140.5,106.81 144.5,107.39 148.5,107.68 152.5,108.31 156.5,109.15 160.5,110.40 164.5,111.57 168.5,112.98 172.5,114.19 176.5,114.82 180.5,115.78 184.5,117.12 188.5,118.40 192.5,119.83 196.5,121.52 200.5,124.20 204.5,126.08 208.5,128.16 212.5,130.06 216.5,132.60 220.5,134.71 224.5,137.15 228.5,139.72 232.5,141.06 236.5,142.38 240.5,143.73 244.5,145.14 248.5,146.58 252.5,148.35 256.5,150.13 260.5,152.12 264.5,154.16 268.5,156.48 272.5,158.15 276.5,159.99 280.5,161.01 284.5,162.31 288.5,163.50 292.5,164.64 296.5,166.20 300.5,167.71 304.5,169.96 308.5,172.07 312.5,174.20 316.5,176.15 320.5,179.02 324.5,181.59 328.5,183.69 332.5,185.80 336.5,187.04 340.5,188.60 344.5,190.11 348.5,191.16 352.5,192.58 356.5,194.04 360.5,195.49 364.5,197.69 368.5,199.27 372.5,200.99 376.5,202.60 380.5,203.98 384.5,205.67 388.5,207.15 392.5,209.67 396.5,212.11 400.5,215.67 404.5,219.03 408.5,222.33 412.5,226.00 416.5,229.62 420.5,233.18 424.5,236.15 428.5,239.47 432.5,242.66 436.5,245.31 440.5,247.46 444.5,250.00 448.5,252.84 452.5,255.77 456.5,259.11 460.5,262.60 464.5,266.51 468.5,270.49 472.5,274.16 476.5,277.70 480.5,280.41 484.5,283.10 488.5,285.15 492.5,286.74 496.5,288.56 500.5,290.59 504.5,292.67 508.5,294.47 512.5,296.64 516.5,299.64 520.5,301.89 524.5,304.20 528.5,306.97 532.5,309.05 536.5,311.31 540.5,313.62 544.5,317.06 548.5,320.24 552.5,322.16 556.5,324.61 560.5,327.31 564.5,329.81 568.5,332.99 572.5,335.96 576.5,338.77 580.5,341.36 584.5,343.83 588.5,345.89 592.5,348.09 596.5,350.49 600.5,352.71 604.5,354.42 608.5,356.32 612.5,358.79 616.5,361.83 620.5,364.77 624.5,367.43 628.5,370.59 632.5,373.69 636.5,376.60 640.5,380.24 644.5,383.85 648.5,385.85 652.5,388.67 656.5,390.99 660.5,393.96 664.5,395.52 668.5,397.41 672.5,401.13 676.5,405.18 680.5,408.44 684.5,411.43 688.5,414.35 692.5,417.46 696.5,419.36 700.5,420.93 704.5,422.28 708.5,424.47 712.5,426.62 716.5,428.68 720.5,431.34 724.5,434.50 728.5,438.33 732.5,442.29 736.5,446.19 740.5,450.16 744.5,453.85 748.5,457.31 752.5,459.94 756.5,461.41 760.5,462.54 764.5,463.57 768.5,465.59 772.5,467.30 776.5,469.71 780.5,471.59 784.5,473.62 788.5,475.32 792.5,476.05 796.5,476.31 800.5,476.83 804.5,478.21 808.5,479.04 812.5,479.37 816.5,480.71 820.5,482.55 824.5,484.29 828.5,485.74 832.5,487.17 836.5,489.81 840.5,492.84 844.5,495.12 848.5,496.87 852.5,498.61 856.5,499.63 860.5,500.34 864.5,501.65 868.5,502.82 872.5,503.85 876.5,505.12 880.5,506.27 884.5,507.16 888.5,508.40 892.5,509.78 896.5,510.69 900.5,511.16 904.5,511.59 908.5,512.30 912.5,513.77 916.5,514.79 920.5,516.04 924.5,517.63 928.5,519.04 932.5,520.31 936.5,521.58 940.5,522.41 944.5,522.82 948.5,523.62 952.5,524.57 956.5,524.80 960.5,525.21 964.5,525.74 968.5,526.90 972.5,527.62 976.5,528.65 980.5,530.23 984.5,530.98 988.5,531.38 992.5,531.43 996.5,532.20 1000.5,532.68 1004.5,533.16 1008.5,533.48 1012.5,533.60 1016.5,533.71 1020.5,534.04 1024.5,534.26 1028.5,534.73 1032.5,534.58 1036.5,535.10 1040.5,535.01 1044.5,533.32 1048.5,531.98 1052.5,530.44 1056.5,529.23 1060.5,528.20 1064.5,527.95 1068.5,527.08 1072.5,526.25 1076.5,524.92 1080.5,523.23 1084.5,521.47 1088.5,519.59 1092.5,517.67 1096.5,515.75 1100.5,513.64 1104.5,511.67 1108.5,509.92 1112.5,508.19 1116.5,506.12 1120.5,504.43 1124.5,502.26 1128.5,499.81 1132.5,497.51 1136.5,495.08 1140.5,493.10 1144.5,491.28 1148.5,489.38 1152.5,488.01 1156.5,486.34 1160.5,484.54 1164.5,483.74 1168.5,482.74 1172.5,482.68 1176.5,482.20 1180.5,481.88 1184.5,481.07 1188.5,480.62 1192.5,479.96 1196.5,479.77 1200.5,479.78 1204.5,480.25 1208.5,480.49 1212.5,480.88 1216.5,481.33 1220.5,481.94 1224.5,482.68 1228.5,483.84 1232.5,485.69 1236.5,487.25 1240.5,488.74 1244.5,490.97 1248.5,492.89 1252.5,494.60 1256.5,496.97 1260.5,500.30 1264.5,503.60 1268.5,506.43" fill="none" stroke="#0000c8" stroke-width="1" shape-rendering="crispEdges"/>
<polyline points="4.5,115.52 8.5,112.91 12.5,113.62 16.5,114.43 20.5,114.44 24.5,114.17 28.5,113.21 32.5,112.46 36.5,110.18 40.5,108.04 44.5,105.48 48.5,105.30 52.5,106.70 56.5,109.28 60.5,108.49 64.5,107.60 68.5,105.29 72.5,102.53 76.5,100.31 80.5,96.61 84.5,93.90 88.5,91.44 92.5,89.84 96.5,89.79 100.5,90.68 104.5,90.92 108.5,90.73 112.5,92.30 116.5,94.82 120.5,98.86 124.5,102.06 128.5,106.45 132.5,109.97 136.5,115.19 140.5,118.66 144.5,122.43 148.5,125.68 152.5,128.11 156.5,129.52 160.5,131.46 164.5,133.23 168.5,133.79 172.5,134.61 176.5,133.99 180.5,133.71 184.5,132.16 188.5,131.37 192.5,131.20 196.5,131.84 200.5,132.63 204.5,133.32 208.5,133.96 212.5,134.65 216.5,137.36 220.5,140.25 224.5,142.72 228.5,145.43 232.5,148.53 236.5,151.84 240.5,155.88 244.5,159.38 248.5,163.76 252.5,167.46 256.5,170.75 260.5,174.48 264.5,178.16 268.5,182.29 272.5,182.86 276.5,183.69 280.5,182.59 284.5,181.64 288.5,181.87 292.5,182.30 296.5,182.14 300.5,182.07 304.5,182.26 308.5,182.19 312.5,182.78 316.5,183.33 320.5,185.89 324.5,187.12 328.5,188.70 332.5,189.98 336.5,193.13 340.5,196.58 344.5,199.74 348.5,202.25 352.5,205.06 356.5,208.26 360.5,210.58 364.5,214.28 368.5,217.48 372.5,220.69 376.5,221.28 380.5,222.46 384.5,225.24 388.5,228.02 392.5,231.35 396.5,234.08 400.5,237.36 404.5,241.37 408.5,245.63 412.5,250.78 416.5,255.29 420.5,258.12 424.5,261.29 428.5,264.67 432.5,268.63 436.5,271.91 440.5,275.46 444.5,278.95 448.5,281.22 452.5,283.54 456.5,286.22 460.5,289.94 464.5,294.40 468.5,297.57 472.5,300.50 476.5,303.68 480.5,305.43 484.5,307.77 488.5,308.53 492.5,309.45 496.5,309.33 500.5,309.43 504.5,310.59 508.5,310.94 512.5,311.78 516.5,313.46 520.5,313.16 524.5,313.61 528.5,315.92 532.5,317.94 536.5,321.49 540.5,323.51 544.5,329.67 548.5,336.47 552.5,340.64 556.5,344.80 560.5,349.68 564.5,354.67 568.5,359.11 572.5,361.35 576.5,365.27 580.5,369.58 584.5,373.40 588.5,376.53 592.5,379.31 596.5,382.68 600.5,381.82 604.5,381.01 608.5,381.72 612.5,382.68 616.5,383.29 620.5,384.35 624.5,384.38 628.5,385.16 632.5,386.59 636.5,388.98 640.5,391.17 644.5,394.94 648.5,396.84 652.5,399.77 656.5,403.53 660.5,408.24 664.5,413.68 668.5,419.22 672.5,424.86 676.5,431.39 680.5,437.57 684.5,442.18 688.5,446.24 692.5,448.91 696.5,449.10 700.5,449.05 704.5,451.47 708.5,453.24 712.5,455.66 716.5,457.09 720.5,458.57 724.5,460.49 728.5,461.42 732.5,462.21 736.5,464.18 740.5,467.34 744.5,469.01 748.5,470.54 752.5,473.55 756.5,475.72 760.5,477.44 764.5,478.72 768.5,480.34 772.5,482.51 776.5,485.76 780.5,487.73 784.5,489.30 788.5,489.99 792.5,488.86 796.5,487.43 800.5,486.83 804.5,486.98 808.5,487.17 812.5,487.40 816.5,488.04 820.5,489.71 824.5,491.54 828.5,492.77 832.5,493.06 836.5,496.12 840.5,499.77 844.5,502.92 848.5,506.03 852.5,510.02 856.5,513.03 860.5,514.75 864.5,517.46 868.5,520.78 872.5,523.15 876.5,524.09 880.5,524.53 884.5,524.63 888.5,525.85 892.5,525.30 896.5,524.00 900.5,522.10 904.5,520.86 908.5,519.31 912.5,519.16 916.5,518.39 920.5,517.67 924.5,518.71 928.5,519.71 932.5,519.95 936.5,520.85 940.5,522.38 944.5,522.43 948.5,522.43 952.5,522.81 956.5,525.34 960.5,528.94 964.5,531.73 968.5,534.17 972.5,537.52 976.5,540.05 980.5,541.76 984.5,543.05 988.5,544.51 992.5,544.25 996.5,545.06 1000.5,545.66 1004.5,545.06 1008.5,544.93 1012.5,544.16 1016.5,542.21 1020.5,539.88 1024.5,536.63 1028.5,534.54 1032.5,531.87 1036.5,528.82 1040.5,526.32 1044.5,522.87 1048.5,520.89 1052.5,516.18 1056.5,513.45 1060.5,511.77 1064.5,510.58 1068.5,508.45 1072.5,506.83 1076.5,505.80 1080.5,505.30 1084.5,503.32 1088.5,502.06 1092.5,500.17 1096.5,498.77 1100.5,499.58 1104.5,499.54 1108.5,500.53 1112.5,499.18 1116.5,497.74 1120.5,495.26 1124.5,491.88 1128.5,488.28 1132.5,485.44 1136.5,481.88 1140.5,479.09 1144.5,475.97 1148.5,473.91 1152.5,472.41 1156.5,470.32 1160.5,468.17 1164.5,466.77 1168.5,466.35 1172.5,465.94 1176.5,465.81 1180.5,468.12 1184.5,470.42 1188.5,472.25 1192.5,474.45 1196.5,477.22 1200.5,480.66 1204.5,483.77 1208.5,485.96 1212.5,488.48 1216.5,491.91 1220.5,495.72 1224.5,499.42 1228.5,503.01 1232.5,506.66 1236.5,509.23 1240.5,511.70 1244.5,514.06 1248.5,515.99 1252.5,517.22 1256.5,518.72 1260.5,522.04 1264.5,525.48 1268.5,528.64" fill="none" stroke="#ff0000" stroke-width="1" shape-rendering="crispEdges"/>
<polyline points="4.5,103.16 8.5,96.27 12.5,99.24 16.5,106.19 20.5,114.09 24.5,114.09 28.5,118.09 32.5,116.16 36.5,111.88 40.5,107.33 44.5,104.57 48.5,101.39 52.5,101.39 56.5,103.60 60.5,104.43 64.5,102.22 68.5,99.18 72.5,94.49 76.5,88.97 80.5,80.83 84.5,79.73 88.5,77.38 92.5,76.36 96.5,77.88 100.5,87.95 104.5,93.06 108.5,99.40 112.5,110.50 116.5,118.50 120.5,125.13 124.5,130.37 128.5,138.51 132.5,138.44 136.5,137.87 140.5,135.17 144.5,134.41 148.5,130.19 152.5,128.68 156.5,128.07 160.5,128.90 164.5,129.64 168.5,133.23 172.5,136.68 176.5,137.65 180.5,136.68 184.5,135.52 188.5,131.66 192.5,128.35 196.5,129.17 200.5,131.38 204.5,133.45 208.5,135.94 212.5,137.73 216.5,144.35 220.5,150.98 224.5,159.53 228.5,168.78 232.5,176.51 236.5,177.20 240.5,179.27 244.5,178.30 248.5,179.68 252.5,182.17 256.5,184.33 260.5,185.54 264.5,188.53 268.5,189.60 272.5,187.49 276.5,187.21 280.5,182.24 284.5,178.51 288.5,175.34 292.5,175.62 296.5,174.93 300.5,176.86 304.5,181.41 308.5,183.07 312.5,185.69 316.5,188.87 320.5,199.22 324.5,203.22 328.5,205.70 332.5,207.36 336.5,209.70 340.5,208.46 344.5,210.67 348.5,213.57 352.5,217.16 356.5,219.23 360.5,220.61 364.5,223.78 368.5,228.33 372.5,232.61 376.5,235.65 380.5,236.48 384.5,236.40 388.5,236.88 392.5,239.56 396.5,244.31 400.5,252.38 404.5,258.73 408.5,266.46 412.5,273.63 416.5,279.98 420.5,281.91 424.5,284.12 428.5,285.91 432.5,285.64 436.5,283.02 440.5,284.95 444.5,286.33 448.5,285.91 452.5,286.05 456.5,292.46 460.5,299.29 464.5,309.70 468.5,319.42 472.5,327.49 476.5,330.80 480.5,327.49 484.5,323.35 488.5,316.31 492.5,308.05 496.5,300.77 500.5,297.54 504.5,293.81 508.5,292.82 512.5,299.00 516.5,310.84 520.5,320.14 524.5,327.87 528.5,341.42 532.5,348.05 536.5,349.98 540.5,352.33 544.5,361.30 548.5,365.57 552.5,364.33 556.5,362.81 560.5,367.09 564.5,362.81 568.5,362.40 572.5,368.81 576.5,377.44 580.5,383.57 584.5,393.85 588.5,396.82 592.5,400.27 596.5,401.09 600.5,395.57 604.5,386.88 608.5,378.88 612.5,372.25 616.5,368.80 620.5,369.91 624.5,371.84 628.5,378.46 632.5,388.40 636.5,399.50 640.5,412.95 644.5,426.40 648.5,432.94 652.5,437.97 656.5,436.32 660.5,434.66 664.5,431.35 668.5,434.94 672.5,439.08 676.5,447.91 680.5,453.98 684.5,458.26 688.5,464.06 692.5,466.82 696.5,462.54 700.5,458.54 704.5,458.95 708.5,457.57 712.5,455.22 716.5,457.02 720.5,457.98 724.5,460.19 728.5,461.99 732.5,466.26 736.5,473.85 740.5,482.82 744.5,487.93 748.5,492.35 752.5,494.28 756.5,490.83 760.5,487.23 764.5,484.74 768.5,482.67 772.5,482.11 776.5,486.11 780.5,489.00 784.5,491.63 788.5,493.28 792.5,491.63 796.5,487.49 800.5,485.42 804.5,485.83 808.5,486.38 812.5,486.74 816.5,488.95 820.5,492.81 824.5,495.43 828.5,497.78 832.5,501.98 836.5,511.64 840.5,519.78 844.5,525.16 848.5,528.75 852.5,534.96 856.5,532.75 860.5,527.78 864.5,527.09 868.5,528.06 872.5,525.71 876.5,523.78 880.5,522.81 884.5,517.85 888.5,516.17 892.5,517.66 896.5,519.54 900.5,518.35 904.5,518.19 908.5,516.63 912.5,515.55 916.5,512.07 920.5,514.71 924.5,522.03 928.5,526.83 932.5,525.99 936.5,529.72 940.5,531.04 944.5,526.59 948.5,525.27 952.5,527.55 956.5,530.92 960.5,536.56 964.5,542.68 968.5,548.44 972.5,553.24 976.5,555.88 980.5,557.92 984.5,558.52 988.5,554.92 992.5,548.56 996.5,545.08 1000.5,537.52 1004.5,530.92 1008.5,528.75 1012.5,530.68 1016.5,528.57 1020.5,526.48 1024.5,524.82 1028.5,524.13 1032.5,521.45 1036.5,520.44 1040.5,520.57 1044.5,516.41 1048.5,510.35 1052.5,501.15 1056.5,494.47 1060.5,490.18 1064.5,494.34 1068.5,495.85 1072.5,502.41 1076.5,505.06 1080.5,506.70 1084.5,503.80 1088.5,503.55 1092.5,501.78 1096.5,500.90 1100.5,500.39 1104.5,499.76 1108.5,496.86 1112.5,491.69 1116.5,487.28 1120.5,482.24 1124.5,474.42 1128.5,468.11 1132.5,466.60 1136.5,462.31 1140.5,458.53 1144.5,458.98 1148.5,461.53 1152.5,464.40 1156.5,468.00 1160.5,469.17 1164.5,471.12 1168.5,470.52 1172.5,469.17 1176.5,469.62 1180.5,474.28 1184.5,478.33 1188.5,483.13 1192.5,486.14 1196.5,490.49 1200.5,494.09 1204.5,498.89 1208.5,502.80 1212.5,507.30 1216.5,510.30 1220.5,513.31 1224.5,514.36 1228.5,516.91 1232.5,520.51 1236.5,522.76 1240.5,523.06 1244.5,524.11 1248.5,522.46 1252.5,520.06 1256.5,520.66 1260.5,527.87 1264.5,534.77 1268.5,542.73" fill="none" stroke="#ffa500" stroke-width="1" shape-rendering="crispEdges"/>
<rect x="4" y="553" width="1592" height="1" fill="#c0c0c0"/>
<rect x="4" y="179" width="1593" height="2" fill="#ff0000"/>
<rect x="4" y="251" width="1593" height="2" fill="#ff0000"/>
<rect x="4" y="333" width="1593" height="2" fill="#ff0000"/>
<rect x="4" y="420" width="1593" height="2" fill="#ff0000"/>
<rect x="4" y="489" width="1593" height="2" fill="#00ff00"/>
<rect x="4" y="567" width="1593" height="2" fill="#0000ff"/>
<rect x="3" y="418" width="6" height="6" fill="#ff0000"/>
<rect x="5" y="420" width="2" height="2" fill="#ffffff"/>
<rect x="1590" y="418" width="6" height="6" fill="#ff0000"/>
<rect x="1592" y="420" width="2" height="2" fill="#ffffff"/>
<rect x="3" y="487" width="6" height="6" fill="#00ff00"/>
<rect x="5" y="489" width="2" height="2" fill="#ffffff"/>
<rect x="1590" y="487" width="6" height="6" fill="#00ff00"/>
<rect x="1592" y="489" width="2" height="2" fill="#ffffff"/>
<rect x="3" y="565" width="6" height="6" fill="#0000ff"/>
<rect x="5" y="567" width="2" height="2" fill="#ffffff"/>
<rect x="1590" y="565" width="6" height="6" fill="#0000ff"/>
<rect x="1592" y="567" width="2" height="2" fill="#ffffff"/>
<polygon points="1271.5,27 1281.5,27 1276.5,32" fill="#c0c0c0"/>
<rect x="3" y="26" width="1594" height="1" fill="#000"/>
<rect x="3" y="582" width="1594" height="1" fill="#000"/>
<rect x="3" y="26" width="1" height="557" fill="#000"/>
<rect x="1596" y="26" width="1" height="557" fill="#000"/>
<rect x="3" y="584" width="1594" height="1" fill="#000"/>
<rect x="3" y="686" width="1594" height="1" fill="#000"/>
<rect x="3" y="584" width="1" height="103" fill="#000"/>
<rect x="1596" y="584" width="1" height="103" fill="#000"/>
<rect x="3" y="688" width="1594" height="1" fill="#000"/>
<rect x="3" y="789" width="1594" height="1" fill="#000"/>
<rect x="3" y="688" width="1" height="102" fill="#000"/>
<rect x="1596" y="688" width="1" height="102" fill="#000"/>
<line x1="5" y1="615.5" x2="1596" y2="615.5" stroke="#b4b4b4" stroke-width="1" stroke-dasharray="3,3" shape-rendering="crispEdges"/>
<line x1="5" y1="655.5" x2="1596" y2="655.5" stroke="#b4b4b4" stroke-width="1" stroke-dasharray="3,3" shape-rendering="crispEdges"/>
<polyline points="4.5,632.34 8.5,629.03 12.5,635.66 16.5,637.24 20.5,635.15 24.5,632.89 28.5,635.38 32.5,632.78 36.5,630.88 40.5,628.40 44.5,628.96 48.5,631.26 52.5,634.34 56.5,636.26 60.5,630.62 64.5,626.19 68.5,626.82 72.5,626.59 76.5,626.95 80.5,618.31 84.5,628.18 88.5,626.73 92.5,629.29 96.5,634.69 100.5,639.80 104.5,638.45 108.5,638.96 112.5,648.23 116.5,647.31 120.5,649.42 124.5,644.69 128.5,649.18 132.5,644.24 136.5,642.34 140.5,641.06 144.5,640.75 148.5,640.10 152.5,640.96 156.5,640.96 160.5,642.82 164.5,642.15 168.5,647.76 172.5,648.32 176.5,640.54 180.5,637.46 184.5,636.32 188.5,635.92 192.5,638.34 196.5,642.84 200.5,643.56 204.5,641.55 208.5,642.36 212.5,642.79 216.5,657.03 220.5,657.46 224.5,659.57 228.5,660.96 232.5,655.28 236.5,653.09 240.5,656.11 244.5,649.74 248.5,655.62 252.5,654.61 256.5,651.41 260.5,652.72 264.5,653.00 268.5,655.65 272.5,643.15 276.5,645.33 280.5,634.27 284.5,637.59 288.5,641.87 292.5,641.87 296.5,641.87 300.5,637.76 304.5,646.71 308.5,643.90 312.5,645.88 316.5,647.01 320.5,656.41 324.5,649.66 328.5,643.39 332.5,643.64 336.5,645.90 340.5,649.61 344.5,651.33 348.5,646.29 352.5,647.74 356.5,646.93 360.5,649.72 364.5,654.36 368.5,653.03 372.5,653.92 376.5,648.86 380.5,646.65 384.5,650.50 388.5,650.75 392.5,655.50 396.5,656.36 400.5,660.08 404.5,660.45 408.5,662.40 412.5,664.93 416.5,663.79 420.5,656.68 424.5,657.53 428.5,659.21 432.5,659.42 436.5,649.14 440.5,654.15 444.5,654.15 448.5,651.54 452.5,652.89 456.5,658.92 460.5,662.85 464.5,666.31 468.5,661.56 472.5,658.34 476.5,654.73 480.5,644.85 484.5,649.35 488.5,639.50 492.5,635.30 496.5,635.03 500.5,636.28 504.5,640.72 508.5,637.33 512.5,645.92 516.5,652.86 520.5,648.73 524.5,649.58 528.5,654.42 532.5,650.23 536.5,651.21 540.5,647.85 544.5,655.83 548.5,654.94 552.5,641.33 556.5,642.02 560.5,647.02 564.5,644.91 568.5,648.73 572.5,647.60 576.5,650.60 580.5,652.43 584.5,655.20 588.5,647.81 592.5,647.56 596.5,647.72 600.5,639.39 604.5,638.93 608.5,633.76 612.5,635.81 616.5,640.89 620.5,640.89 624.5,641.76 628.5,644.13 632.5,650.31 636.5,655.13 640.5,657.30 644.5,657.81 648.5,646.52 652.5,649.94 656.5,645.85 660.5,648.56 664.5,646.48 668.5,648.32 672.5,652.32 676.5,654.79 680.5,653.89 684.5,647.79 688.5,651.27 692.5,651.88 696.5,642.93 700.5,642.67 704.5,644.81 708.5,646.53 712.5,645.63 716.5,644.69 720.5,642.46 724.5,646.99 728.5,648.25 732.5,651.28 736.5,655.03 740.5,655.53 744.5,652.39 748.5,652.59 752.5,651.32 756.5,644.12 760.5,644.65 764.5,644.65 768.5,645.85 772.5,648.22 776.5,652.23 780.5,649.31 784.5,648.32 788.5,646.79 792.5,639.28 796.5,637.98 800.5,641.46 804.5,646.87 808.5,645.89 812.5,637.98 816.5,641.72 820.5,648.11 824.5,649.98 828.5,648.08 832.5,646.16 836.5,657.78 840.5,659.44 844.5,653.79 848.5,647.16 852.5,650.43 856.5,646.38 860.5,642.87 864.5,647.20 868.5,645.40 872.5,642.20 876.5,639.45 880.5,638.41 884.5,634.67 888.5,640.61 892.5,644.42 896.5,642.49 900.5,634.20 904.5,633.17 908.5,636.02 912.5,641.22 916.5,634.16 920.5,639.53 924.5,646.53 928.5,643.58 932.5,636.99 936.5,639.52 940.5,639.94 944.5,636.67 948.5,640.10 952.5,640.78 956.5,645.31 960.5,649.26 964.5,646.53 968.5,648.82 972.5,647.21 976.5,647.83 980.5,651.07 984.5,644.06 988.5,637.51 992.5,630.87 996.5,637.34 1000.5,633.33 1004.5,630.62 1008.5,634.04 1012.5,635.49 1016.5,633.92 1020.5,629.82 1024.5,627.79 1028.5,633.83 1032.5,631.40 1036.5,633.40 1040.5,631.34 1044.5,622.22 1048.5,624.08 1052.5,618.15 1056.5,625.88 1060.5,628.74 1064.5,634.49 1068.5,631.40 1072.5,632.61 1076.5,631.73 1080.5,632.54 1084.5,629.71 1088.5,631.49 1092.5,629.74 1096.5,630.71 1100.5,632.70 1104.5,629.07 1108.5,625.98 1112.5,620.44 1116.5,623.76 1120.5,624.14 1124.5,617.04 1128.5,617.04 1132.5,622.13 1136.5,619.46 1140.5,621.42 1144.5,621.10 1148.5,627.71 1152.5,633.08 1156.5,631.01 1160.5,627.10 1164.5,628.87 1168.5,627.85 1172.5,631.55 1176.5,634.21 1180.5,640.57 1184.5,640.57 1188.5,641.37 1192.5,639.34 1196.5,645.30 1200.5,649.03 1204.5,651.50 1208.5,649.20 1212.5,649.20 1216.5,650.96 1220.5,654.53 1224.5,651.25 1228.5,653.25 1232.5,655.47 1236.5,652.67 1240.5,651.25 1244.5,651.25 1248.5,642.85 1252.5,643.82 1256.5,650.64 1260.5,661.69 1264.5,660.48 1268.5,657.42" fill="none" stroke="#1e90ff" stroke-width="1" shape-rendering="crispEdges"/>
<g shape-rendering="crispEdges"><rect x="4" y="708" width="1" height="21" fill="#c0c0c0"/><rect x="8" y="707" width="1" height="22" fill="#c0c0c0"/><rect x="12" y="710" width="1" height="19" fill="#c0c0c0"/><rect x="16" y="714" width="1" height="15" fill="#c0c0c0"/><rect x="20" y="716" width="1" height="13" fill="#c0c0c0"/><rect x="24" y="716" width="1" height="13" fill="#c0c0c0"/><rect x="28" y="718" width="1" height="11" fill="#c0c0c0"/><rect x="32" y="718" width="1" height="11" fill="#c0c0c0"/><rect x="36" y="717" width="1" height="12" fill="#c0c0c0"/><rect x="40" y="714" width="1" height="15" fill="#c0c0c0"/><rect x="44" y="713" width="1" height="16" fill="#c0c0c0"/><rect x="48" y="713" width="1" height="16" fill="#c0c0c0"/><rect x="52" y="715" width="1" height="14" fill="#c0c0c0"/><rect x="56" y="717" width="1" height="12" fill="#c0c0c0"/><rect x="60" y="716" width="1" height="13" fill="#c0c0c0"/><rect x="64" y="713" width="1" height="16" fill="#c0c0c0"/><rect x="68" y="711" width="1" height="18" fill="#c0c0c0"/><rect x="72" y="710" width="1" height="19" fill="#c0c0c0"/><rect x="76" y="709" width="1" height="20" fill="#c0c0c0"/><rect x="80" y="703" width="1" height="26" fill="#c0c0c0"/><rect x="84" y="703" width="1" height="26" fill="#c0c0c0"/><rect x="88" y="703" width="1" height="26" fill="#c0c0c0"/><rect x="92" y="703" width="1" height="26" fill="#c0c0c0"/><rect x="96" y="707" width="1" height="22" fill="#c0c0c0"/><rect x="100" y="712" width="1" height="17" fill="#c0c0c0"/><rect x="104" y="716" width="1" height="13" fill="#c0c0c0"/><rect x="108" y="720" width="1" height="9" fill="#c0c0c0"/><rect x="112" y="728" width="1" height="1" fill="#c0c0c0"/><rect x="116" y="728" width="1" height="7" fill="#c0c0c0"/><rect x="120" y="728" width="1" height="13" fill="#c0c0c0"/><rect x="124" y="728" width="1" height="16" fill="#c0c0c0"/><rect x="128" y="728" width="1" height="21" fill="#c0c0c0"/><rect x="132" y="728" width="1" height="22" fill="#c0c0c0"/><rect x="136" y="728" width="1" height="23" fill="#c0c0c0"/><rect x="140" y="728" width="1" height="22" fill="#c0c0c0"/><rect x="144" y="728" width="1" height="21" fill="#c0c0c0"/><rect x="148" y="728" width="1" height="20" fill="#c0c0c0"/><rect x="152" y="728" width="1" height="19" fill="#c0c0c0"/><rect x="156" y="728" width="1" height="18" fill="#c0c0c0"/><rect x="160" y="728" width="1" height="18" fill="#c0c0c0"/><rect x="164" y="728" width="1" height="18" fill="#c0c0c0"/><rect x="168" y="728" width="1" height="20" fill="#c0c0c0"/><rect x="172" y="728" width="1" height="21" fill="#c0c0c0"/><rect x="176" y="728" width="1" height="20" fill="#c0c0c0"/><rect x="180" y="728" width="1" height="17" fill="#c0c0c0"/><rect x="184" y="728" width="1" height="15" fill="#c0c0c0"/><rect x="188" y="728" width="1" height="13" fill="#c0c0c0"/><rect x="192" y="728" width="1" height="12" fill="#c0c0c0"/><rect x="196" y="728" width="1" height="12" fill="#c0c0c0"/><rect x="200" y="728" width="1" height="13" fill="#c0c0c0"/><rect x="204" y="728" width="1" height="13" fill="#c0c0c0"/><rect x="208" y="728" width="1" height="13" fill="#c0c0c0"/><rect x="212" y="728" width="1" height="13" fill="#c0c0c0"/><rect x="216" y="728" width="1" height="19" fill="#c0c0c0"/><rect x="220" y="728" width="1" height="23" fill="#c0c0c0"/><rect x="224" y="728" width="1" height="28" fill="#c0c0c0"/><rect x="228" y="728" width="1" height="32" fill="#c0c0c0"/><rect x="232" y="728" width="1" height="34" fill="#c0c0c0"/><rect x="236" y="728" width="1" height="34" fill="#c0c0c0"/><rect x="240" y="728" width="1" height="36" fill="#c0c0c0"/><rect x="244" y="728" width="1" height="35" fill="#c0c0c0"/><rect x="248" y="728" width="1" height="37" fill="#c0c0c0"/><rect x="252" y="728" width="1" height="38" fill="#c0c0c0"/><rect x="256" y="728" width="1" height="38" fill="#c0c0c0"/><rect x="260" y="728" width="1" height="38" fill="#c0c0c0"/><rect x="264" y="728" width="1" height="37" fill="#c0c0c0"/><rect x="268" y="728" width="1" height="38" fill="#c0c0c0"/><rect x="272" y="728" width="1" height="35" fill="#c0c0c0"/><rect x="276" y="728" width="1" height="33" fill="#c0c0c0"/><rect x="280" y="728" width="1" height="27" fill="#c0c0c0"/><rect x="284" y="728" width="1" height="24" fill="#c0c0c0"/><rect x="288" y="728" width="1" height="23" fill="#c0c0c0"/><rect x="292" y="728" width="1" height="21" fill="#c0c0c0"/><rect x="296" y="728" width="1" height="20" fill="#c0c0c0"/><rect x="300" y="728" width="1" height="18" fill="#c0c0c0"/><rect x="304" y="728" width="1" height="20" fill="#c0c0c0"/><rect x="308" y="728" width="1" height="20" fill="#c0c0c0"/><rect x="312" y="728" width="1" height="21" fill="#c0c0c0"/><rect x="316" y="728" width="1" height="22" fill="#c0c0c0"/><rect x="320" y="728" width="1" height="27" fill="#c0c0c0"/><rect x="324" y="728" width="1" height="30" fill="#c0c0c0"/><rect x="328" y="728" width="1" height="29" fill="#c0c0c0"/><rect x="332" y="728" width="1" height="28" fill="#c0c0c0"/><rect x="336" y="728" width="1" height="28" fill="#c0c0c0"/><rect x="340" y="728" width="1" height="30" fill="#c0c0c0"/><rect x="344" y="728" width="1" height="32" fill="#c0c0c0"/><rect x="348" y="728" width="1" height="31" fill="#c0c0c0"/><rect x="352" y="728" width="1" height="32" fill="#c0c0c0"/><rect x="356" y="728" width="1" height="31" fill="#c0c0c0"/><rect x="360" y="728" width="1" height="32" fill="#c0c0c0"/><rect x="364" y="728" width="1" height="35" fill="#c0c0c0"/><rect x="368" y="728" width="1" height="36" fill="#c0c0c0"/><rect x="372" y="728" width="1" height="37" fill="#c0c0c0"/><rect x="376" y="728" width="1" height="37" fill="#c0c0c0"/><rect x="380" y="728" width="1" height="35" fill="#c0c0c0"/><rect x="384" y="728" width="1" height="35" fill="#c0c0c0"/><rect x="388" y="728" width="1" height="35" fill="#c0c0c0"/><rect x="392" y="728" width="1" height="37" fill="#c0c0c0"/><rect x="396" y="728" width="1" height="39" fill="#c0c0c0"/><rect x="400" y="728" width="1" height="42" fill="#c0c0c0"/><rect x="404" y="728" width="1" height="45" fill="#c0c0c0"/><rect x="408" y="728" width="1" height="47" fill="#c0c0c0"/><rect x="412" y="728" width="1" height="51" fill="#c0c0c0"/><rect x="416" y="728" width="1" height="53" fill="#c0c0c0"/><rect x="420" y="728" width="1" height="52" fill="#c0c0c0"/><rect x="424" y="728" width="1" height="52" fill="#c0c0c0"/><rect x="428" y="728" width="1" height="52" fill="#c0c0c0"/><rect x="432" y="728" width="1" height="51" fill="#c0c0c0"/><rect x="436" y="728" width="1" height="48" fill="#c0c0c0"/><rect x="440" y="728" width="1" height="48" fill="#c0c0c0"/><rect x="444" y="728" width="1" height="47" fill="#c0c0c0"/><rect x="448" y="728" width="1" height="45" fill="#c0c0c0"/><rect x="452" y="728" width="1" height="43" fill="#c0c0c0"/><rect x="456" y="728" width="1" height="45" fill="#c0c0c0"/><rect x="460" y="728" width="1" height="49" fill="#c0c0c0"/><rect x="464" y="728" width="1" height="55" fill="#c0c0c0"/><rect x="468" y="728" width="1" height="57" fill="#c0c0c0"/><rect x="472" y="728" width="1" height="58" fill="#c0c0c0"/><rect x="476" y="728" width="1" height="57" fill="#c0c0c0"/><rect x="480" y="728" width="1" height="52" fill="#c0c0c0"/><rect x="484" y="728" width="1" height="50" fill="#c0c0c0"/><rect x="488" y="728" width="1" height="44" fill="#c0c0c0"/><rect x="492" y="728" width="1" height="37" fill="#c0c0c0"/><rect x="496" y="728" width="1" height="31" fill="#c0c0c0"/><rect x="500" y="728" width="1" height="26" fill="#c0c0c0"/><rect x="504" y="728" width="1" height="25" fill="#c0c0c0"/><rect x="508" y="728" width="1" height="22" fill="#c0c0c0"/><rect x="512" y="728" width="1" height="24" fill="#c0c0c0"/><rect x="516" y="728" width="1" height="30" fill="#c0c0c0"/><rect x="520" y="728" width="1" height="33" fill="#c0c0c0"/><rect x="524" y="728" width="1" height="35" fill="#c0c0c0"/><rect x="528" y="728" width="1" height="41" fill="#c0c0c0"/><rect x="532" y="728" width="1" height="43" fill="#c0c0c0"/><rect x="536" y="728" width="1" height="45" fill="#c0c0c0"/><rect x="540" y="728" width="1" height="45" fill="#c0c0c0"/><rect x="544" y="728" width="1" height="51" fill="#c0c0c0"/><rect x="548" y="728" width="1" height="54" fill="#c0c0c0"/><rect x="552" y="728" width="1" height="50" fill="#c0c0c0"/><rect x="556" y="728" width="1" height="46" fill="#c0c0c0"/><rect x="560" y="728" width="1" height="47" fill="#c0c0c0"/><rect x="564" y="728" width="1" height="46" fill="#c0c0c0"/><rect x="568" y="728" width="1" height="47" fill="#c0c0c0"/><rect x="572" y="728" width="1" height="48" fill="#c0c0c0"/><rect x="576" y="728" width="1" height="50" fill="#c0c0c0"/><rect x="580" y="728" width="1" height="53" fill="#c0c0c0"/><rect x="584" y="728" width="1" height="57" fill="#c0c0c0"/><rect x="588" y="728" width="1" height="56" fill="#c0c0c0"/><rect x="592" y="728" width="1" height="55" fill="#c0c0c0"/><rect x="596" y="728" width="1" height="53" fill="#c0c0c0"/><rect x="600" y="728" width="1" height="47" fill="#c0c0c0"/><rect x="604" y="728" width="1" height="42" fill="#c0c0c0"/><rect x="608" y="728" width="1" height="34" fill="#c0c0c0"/><rect x="612" y="728" width="1" height="29" fill="#c0c0c0"/><rect x="616" y="728" width="1" height="27" fill="#c0c0c0"/><rect x="620" y="728" width="1" height="26" fill="#c0c0c0"/><rect x="624" y="728" width="1" height="25" fill="#c0c0c0"/><rect x="628" y="728" width="1" height="26" fill="#c0c0c0"/><rect x="632" y="728" width="1" height="30" fill="#c0c0c0"/><rect x="636" y="728" width="1" height="37" fill="#c0c0c0"/><rect x="640" y="728" width="1" height="45" fill="#c0c0c0"/><rect x="644" y="728" width="1" height="50" fill="#c0c0c0"/><rect x="648" y="728" width="1" height="49" fill="#c0c0c0"/><rect x="652" y="728" width="1" height="51" fill="#c0c0c0"/><rect x="656" y="728" width="1" height="49" fill="#c0c0c0"/><rect x="660" y="728" width="1" height="50" fill="#c0c0c0"/><rect x="664" y="728" width="1" height="49" fill="#c0c0c0"/><rect x="668" y="728" width="1" height="49" fill="#c0c0c0"/><rect x="672" y="728" width="1" height="51" fill="#c0c0c0"/><rect x="676" y="728" width="1" height="55" fill="#c0c0c0"/><rect x="680" y="728" width="1" height="57" fill="#c0c0c0"/><rect x="684" y="728" width="1" height="56" fill="#c0c0c0"/><rect x="688" y="728" width="1" height="56" fill="#c0c0c0"/><rect x="692" y="728" width="1" height="57" fill="#c0c0c0"/><rect x="696" y="728" width="1" height="52" fill="#c0c0c0"/><rect x="700" y="728" width="1" height="48" fill="#c0c0c0"/><rect x="704" y="728" width="1" height="46" fill="#c0c0c0"/><rect x="708" y="728" width="1" height="45" fill="#c0c0c0"/><rect x="712" y="728" width="1" height="43" fill="#c0c0c0"/><rect x="716" y="728" width="1" height="41" fill="#c0c0c0"/><rect x="720" y="728" width="1" height="37" fill="#c0c0c0"/><rect x="724" y="728" width="1" height="37" fill="#c0c0c0"/><rect x="728" y="728" width="1" height="37" fill="#c0c0c0"/><rect x="732" y="728" width="1" height="39" fill="#c0c0c0"/><rect x="736" y="728" width="1" height="42" fill="#c0c0c0"/><rect x="740" y="728" width="1" height="45" fill="#c0c0c0"/><rect x="744" y="728" width="1" height="45" fill="#c0c0c0"/><rect x="748" y="728" width="1" height="46" fill="#c0c0c0"/><rect x="752" y="728" width="1" height="45" fill="#c0c0c0"/><rect x="756" y="728" width="1" height="41" fill="#c0c0c0"/><rect x="760" y="728" width="1" height="38" fill="#c0c0c0"/><rect x="764" y="728" width="1" height="36" fill="#c0c0c0"/><rect x="768" y="728" width="1" height="34" fill="#c0c0c0"/><rect x="772" y="728" width="1" height="33" fill="#c0c0c0"/><rect x="776" y="728" width="1" height="34" fill="#c0c0c0"/><rect x="780" y="728" width="1" height="33" fill="#c0c0c0"/><rect x="784" y="728" width="1" height="32" fill="#c0c0c0"/><rect x="788" y="728" width="1" height="31" fill="#c0c0c0"/><rect x="792" y="728" width="1" height="27" fill="#c0c0c0"/><rect x="796" y="728" width="1" height="24" fill="#c0c0c0"/><rect x="800" y="728" width="1" height="22" fill="#c0c0c0"/><rect x="804" y="728" width="1" height="22" fill="#c0c0c0"/><rect x="808" y="728" width="1" height="22" fill="#c0c0c0"/><rect x="812" y="728" width="1" height="19" fill="#c0c0c0"/><rect x="816" y="728" width="1" height="18" fill="#c0c0c0"/><rect x="820" y="728" width="1" height="20" fill="#c0c0c0"/><rect x="824" y="728" width="1" height="22" fill="#c0c0c0"/><rect x="828" y="728" width="1" height="23" fill="#c0c0c0"/><rect x="832" y="728" width="1" height="23" fill="#c0c0c0"/><rect x="836" y="728" width="1" height="29" fill="#c0c0c0"/><rect x="840" y="728" width="1" height="35" fill="#c0c0c0"/><rect x="844" y="728" width="1" height="37" fill="#c0c0c0"/><rect x="848" y="728" width="1" height="37" fill="#c0c0c0"/><rect x="852" y="728" width="1" height="38" fill="#c0c0c0"/><rect x="856" y="728" width="1" height="37" fill="#c0c0c0"/><rect x="860" y="728" width="1" height="34" fill="#c0c0c0"/><rect x="864" y="728" width="1" height="34" fill="#c0c0c0"/><rect x="868" y="728" width="1" height="33" fill="#c0c0c0"/><rect x="872" y="728" width="1" height="31" fill="#c0c0c0"/><rect x="876" y="728" width="1" height="28" fill="#c0c0c0"/><rect x="880" y="728" width="1" height="24" fill="#c0c0c0"/><rect x="884" y="728" width="1" height="20" fill="#c0c0c0"/><rect x="888" y="728" width="1" height="19" fill="#c0c0c0"/><rect x="892" y="728" width="1" height="20" fill="#c0c0c0"/><rect x="896" y="728" width="1" height="20" fill="#c0c0c0"/><rect x="900" y="728" width="1" height="16" fill="#c0c0c0"/><rect x="904" y="728" width="1" height="13" fill="#c0c0c0"/><rect x="908" y="728" width="1" height="11" fill="#c0c0c0"/><rect x="912" y="728" width="1" height="12" fill="#c0c0c0"/><rect x="916" y="728" width="1" height="9" fill="#c0c0c0"/><rect x="920" y="728" width="1" height="10" fill="#c0c0c0"/><rect x="924" y="728" width="1" height="14" fill="#c0c0c0"/><rect x="928" y="728" width="1" height="16" fill="#c0c0c0"/><rect x="932" y="728" width="1" height="14" fill="#c0c0c0"/><rect x="936" y="728" width="1" height="14" fill="#c0c0c0"/><rect x="940" y="728" width="1" height="14" fill="#c0c0c0"/><rect x="944" y="728" width="1" height="12" fill="#c0c0c0"/><rect x="948" y="728" width="1" height="12" fill="#c0c0c0"/><rect x="952" y="728" width="1" height="13" fill="#c0c0c0"/><rect x="956" y="728" width="1" height="15" fill="#c0c0c0"/><rect x="960" y="728" width="1" height="20" fill="#c0c0c0"/><rect x="964" y="728" width="1" height="22" fill="#c0c0c0"/><rect x="968" y="728" width="1" height="24" fill="#c0c0c0"/><rect x="972" y="728" width="1" height="26" fill="#c0c0c0"/><rect x="976" y="728" width="1" height="27" fill="#c0c0c0"/><rect x="980" y="728" width="1" height="29" fill="#c0c0c0"/><rect x="984" y="728" width="1" height="28" fill="#c0c0c0"/><rect x="988" y="728" width="1" height="25" fill="#c0c0c0"/><rect x="992" y="728" width="1" height="19" fill="#c0c0c0"/><rect x="996" y="728" width="1" height="17" fill="#c0c0c0"/><rect x="1000" y="728" width="1" height="13" fill="#c0c0c0"/><rect x="1004" y="728" width="1" height="8" fill="#c0c0c0"/><rect x="1008" y="728" width="1" height="6" fill="#c0c0c0"/><rect x="1012" y="728" width="1" height="5" fill="#c0c0c0"/><rect x="1016" y="728" width="1" height="4" fill="#c0c0c0"/><rect x="1020" y="728" width="1" height="1" fill="#c0c0c0"/><rect x="1024" y="724" width="1" height="5" fill="#c0c0c0"/><rect x="1028" y="724" width="1" height="5" fill="#c0c0c0"/><rect x="1032" y="722" width="1" height="7" fill="#c0c0c0"/><rect x="1036" y="722" width="1" height="7" fill="#c0c0c0"/><rect x="1040" y="721" width="1" height="8" fill="#c0c0c0"/><rect x="1044" y="716" width="1" height="13" fill="#c0c0c0"/><rect x="1048" y="712" width="1" height="17" fill="#c0c0c0"/><rect x="1052" y="705" width="1" height="24" fill="#c0c0c0"/><rect x="1056" y="703" width="1" height="26" fill="#c0c0c0"/><rect x="1060" y="703" width="1" height="26" fill="#c0c0c0"/><rect x="1064" y="707" width="1" height="22" fill="#c0c0c0"/><rect x="1068" y="708" width="1" height="21" fill="#c0c0c0"/><rect x="1072" y="709" width="1" height="20" fill="#c0c0c0"/><rect x="1076" y="710" width="1" height="19" fill="#c0c0c0"/><rect x="1080" y="712" width="1" height="17" fill="#c0c0c0"/><rect x="1084" y="711" width="1" height="18" fill="#c0c0c0"/><rect x="1088" y="712" width="1" height="17" fill="#c0c0c0"/><rect x="1092" y="712" width="1" height="17" fill="#c0c0c0"/><rect x="1096" y="713" width="1" height="16" fill="#c0c0c0"/><rect x="1100" y="714" width="1" height="15" fill="#c0c0c0"/><rect x="1104" y="714" width="1" height="15" fill="#c0c0c0"/><rect x="1108" y="712" width="1" height="17" fill="#c0c0c0"/><rect x="1112" y="708" width="1" height="21" fill="#c0c0c0"/><rect x="1116" y="706" width="1" height="23" fill="#c0c0c0"/><rect x="1120" y="705" width="1" height="24" fill="#c0c0c0"/><rect x="1124" y="701" width="1" height="28" fill="#c0c0c0"/><rect x="1128" y="697" width="1" height="32" fill="#c0c0c0"/><rect x="1132" y="697" width="1" height="32" fill="#c0c0c0"/><rect x="1136" y="695" width="1" height="34" fill="#c0c0c0"/><rect x="1140" y="695" width="1" height="34" fill="#c0c0c0"/><rect x="1144" y="695" width="1" height="34" fill="#c0c0c0"/><rect x="1148" y="697" width="1" height="32" fill="#c0c0c0"/><rect x="1152" y="701" width="1" height="28" fill="#c0c0c0"/><rect x="1156" y="703" width="1" height="26" fill="#c0c0c0"/><rect x="1160" y="704" width="1" height="25" fill="#c0c0c0"/><rect x="1164" y="705" width="1" height="24" fill="#c0c0c0"/><rect x="1168" y="706" width="1" height="23" fill="#c0c0c0"/><rect x="1172" y="708" width="1" height="21" fill="#c0c0c0"/><rect x="1176" y="711" width="1" height="18" fill="#c0c0c0"/><rect x="1180" y="715" width="1" height="14" fill="#c0c0c0"/><rect x="1184" y="719" width="1" height="10" fill="#c0c0c0"/><rect x="1188" y="722" width="1" height="7" fill="#c0c0c0"/><rect x="1192" y="724" width="1" height="5" fill="#c0c0c0"/><rect x="1196" y="728" width="1" height="1" fill="#c0c0c0"/><rect x="1200" y="728" width="1" height="6" fill="#c0c0c0"/><rect x="1204" y="728" width="1" height="10" fill="#c0c0c0"/><rect x="1208" y="728" width="1" height="13" fill="#c0c0c0"/><rect x="1212" y="728" width="1" height="15" fill="#c0c0c0"/><rect x="1216" y="728" width="1" height="17" fill="#c0c0c0"/><rect x="1220" y="728" width="1" height="21" fill="#c0c0c0"/><rect x="1224" y="728" width="1" height="22" fill="#c0c0c0"/><rect x="1228" y="728" width="1" height="24" fill="#c0c0c0"/><rect x="1232" y="728" width="1" height="26" fill="#c0c0c0"/><rect x="1236" y="728" width="1" height="27" fill="#c0c0c0"/><rect x="1240" y="728" width="1" height="27" fill="#c0c0c0"/><rect x="1244" y="728" width="1" height="27" fill="#c0c0c0"/><rect x="1248" y="728" width="1" height="24" fill="#c0c0c0"/><rect x="1252" y="728" width="1" height="23" fill="#c0c0c0"/><rect x="1256" y="728" width="1" height="23" fill="#c0c0c0"/><rect x="1260" y="728" width="1" height="30" fill="#c0c0c0"/><rect x="1264" y="728" width="1" height="34" fill="#c0c0c0"/><rect x="1268" y="728" width="1" height="36" fill="#c0c0c0"/></g>
<path d="M4.5,716.76 L5.5,716.44 M8.5,715.46 L11.5,714.80 M14.5,714.21 L16.5,713.84 L17.5,713.70 M20.5,713.29 L23.5,712.75 M26.5,712.53 L28.5,712.48 L29.5,712.61 M32.5,712.99 L35.5,713.82 M38.5,714.45 L40.5,714.81 L41.5,714.98 M44.5,715.50 L47.5,715.76 M50.5,715.90 L52.5,715.95 L53.5,715.99 M56.5,716.11 L59.5,716.14 M62.5,715.91 L64.5,715.67 L65.5,715.49 M68.5,714.97 L71.5,714.42 M74.5,713.94 L76.5,713.65 L77.5,713.38 M80.5,712.59 L83.5,711.76 M86.5,710.80 L88.5,710.12 L89.5,709.73 M92.5,708.57 L95.5,707.76 M98.5,707.44 L100.5,707.38 L101.5,707.51 M104.5,707.91 L107.5,708.72 M110.5,710.04 L112.5,711.09 L113.5,711.94 M116.5,714.49 L119.5,717.56 M122.5,720.84 L124.5,723.08 L125.5,724.32 M128.5,728.03 L131.5,731.59 M134.5,734.85 L136.5,736.92 L137.5,737.82 M140.5,740.54 L143.5,742.89 M146.5,744.72 L148.5,745.76 L149.5,746.09 M152.5,747.08 L155.5,747.50 M158.5,747.75 L160.5,747.87 L161.5,747.78 M164.5,747.51 L167.5,747.27 M170.5,747.11 L172.5,747.02 L173.5,746.96 M176.5,746.78 L179.5,746.49 M182.5,746.13 L184.5,745.87 L185.5,745.70 M188.5,745.20 L191.5,744.68 M194.5,744.19 L196.5,743.88 L197.5,743.75 M200.5,743.37 L203.5,742.81 M206.5,742.18 L208.5,741.73 L209.5,741.54 M212.5,740.97 L215.5,741.09 M218.5,741.59 L220.5,742.05 L221.5,742.47 M224.5,743.73 L227.5,745.43 M230.5,747.19 L232.5,748.38 L233.5,748.97 M236.5,750.75 L239.5,752.67 M242.5,754.55 L244.5,755.78 L245.5,756.46 M248.5,758.49 L251.5,760.12 M254.5,761.46 L256.5,762.26 L257.5,762.53 M260.5,763.33 L263.5,763.74 M266.5,764.09 L268.5,764.31 L269.5,764.31 M272.5,764.33 L275.5,764.06 M278.5,763.53 L280.5,763.08 L281.5,762.70 M284.5,761.57 L287.5,760.26 M290.5,758.92 L292.5,758.01 L293.5,757.53 M296.5,756.09 L299.5,754.48 M302.5,752.93 L304.5,751.92 L305.5,751.51 M308.5,750.28 L311.5,749.27 M314.5,748.63 L316.5,748.33 L317.5,748.43 M320.5,748.75 L323.5,749.33 M326.5,749.93 L328.5,750.33 L329.5,750.54 M332.5,751.15 L335.5,751.98 M338.5,752.81 L340.5,753.37 L341.5,753.71 M344.5,754.71 L347.5,755.61 M350.5,756.47 L352.5,757.03 L353.5,757.13 M356.5,757.44 L359.5,757.63 M362.5,758.03 L364.5,758.37 L365.5,758.60 M368.5,759.31 L371.5,760.12 M374.5,760.78 L376.5,761.16 L377.5,761.25 M380.5,761.52 L383.5,761.83 M386.5,762.12 L388.5,762.30 L389.5,762.47 M392.5,762.96 L395.5,763.54 M398.5,764.14 L400.5,764.55 L401.5,764.78 M404.5,765.47 L407.5,766.29 M410.5,767.36 L412.5,768.15 L413.5,768.66 M416.5,770.16 L419.5,771.61 M422.5,773.03 L424.5,773.97 L425.5,774.38 M428.5,775.62 L431.5,776.68 M434.5,777.37 L436.5,777.71 L437.5,777.79 M440.5,778.05 L443.5,777.98 M446.5,777.61 L448.5,777.25 L449.5,776.98 M452.5,776.16 L455.5,775.55 M458.5,775.17 L460.5,775.01 L461.5,775.09 M464.5,775.32 L467.5,775.81 M470.5,776.52 L472.5,777.06 L473.5,777.32 M476.5,778.08 L479.5,778.53 M482.5,778.98 L484.5,779.29 L485.5,779.32 M488.5,779.40 L491.5,778.74 M494.5,777.53 L496.5,776.53 L497.5,775.75 M500.5,773.39 L503.5,770.67 M506.5,767.74 L508.5,765.72 L509.5,764.80 M512.5,762.04 L515.5,760.21 M518.5,758.64 L520.5,757.68 L521.5,757.43 M524.5,756.69 L527.5,757.01 M530.5,757.78 L532.5,758.45 L533.5,758.97 M536.5,760.51 L539.5,762.18 M542.5,764.34 L544.5,765.96 L545.5,766.81 M548.5,769.38 L551.5,771.03 M554.5,772.32 L556.5,773.06 L557.5,773.38 M560.5,774.33 L563.5,774.71 M566.5,775.08 L568.5,775.32 L569.5,775.39 M572.5,775.61 L575.5,776.04 M578.5,776.30 L580.5,776.42 L581.5,776.49 M584.5,776.72 L587.5,777.25 M590.5,777.91 L592.5,778.39 L593.5,778.57 M596.5,779.11 L599.5,779.25 M602.5,778.99 L604.5,778.67 L605.5,778.30 M608.5,777.17 L611.5,775.41 M614.5,773.42 L616.5,772.02 L617.5,771.16 M620.5,768.57 L623.5,765.99 M626.5,763.51 L628.5,761.89 L629.5,761.24 M632.5,759.30 L635.5,758.45 M638.5,758.33 L640.5,758.48 L641.5,758.93 M644.5,760.29 L647.5,762.00 M650.5,763.87 L652.5,765.17 L653.5,765.82 M656.5,767.76 L659.5,769.82 M662.5,771.78 L664.5,773.06 L665.5,773.58 M668.5,775.13 L671.5,776.32 M674.5,777.30 L676.5,777.90 L677.5,778.09 M680.5,778.67 L683.5,779.18 M686.5,779.66 L688.5,779.96 L689.5,780.17 M692.5,780.80 L695.5,781.01 M698.5,781.06 L700.5,781.04 L701.5,780.97 M704.5,780.74 L707.5,780.18 M710.5,779.31 L712.5,778.62 L713.5,778.15 M716.5,776.76 L719.5,775.25 M722.5,773.67 L724.5,772.60 L725.5,772.05 M728.5,770.41 L731.5,769.27 M734.5,768.55 L736.5,768.21 L737.5,768.18 M740.5,768.10 L743.5,768.17 M746.5,768.34 L748.5,768.49 L749.5,768.60 M752.5,768.95 L755.5,769.28 M758.5,769.46 L760.5,769.53 L761.5,769.49 M764.5,769.36 L767.5,768.94 M770.5,768.27 L772.5,767.74 L773.5,767.43 M776.5,766.49 L779.5,765.46 M782.5,764.38 L784.5,763.64 L785.5,763.25 M788.5,762.07 L791.5,760.89 M794.5,759.68 L796.5,758.87 L797.5,758.48 M800.5,757.33 L803.5,756.37 M806.5,755.46 L808.5,754.86 L809.5,754.47 M812.5,753.28 L815.5,752.06 M818.5,751.00 L820.5,750.34 L821.5,750.10 M824.5,749.41 L827.5,749.08 M830.5,748.94 L832.5,748.91 L833.5,749.12 M836.5,749.73 L839.5,750.78 M842.5,751.98 L844.5,752.83 L845.5,753.31 M848.5,754.74 L851.5,756.34 M854.5,757.77 L856.5,758.68 L857.5,759.01 M860.5,759.99 L863.5,760.89 M866.5,761.75 L868.5,762.30 L869.5,762.34 M872.5,762.47 L875.5,761.86 M878.5,760.94 L880.5,760.22 L881.5,759.76 M884.5,758.40 L887.5,756.86 M890.5,755.42 L892.5,754.50 L893.5,754.10 M896.5,752.89 L899.5,751.39 M902.5,749.75 L904.5,748.61 L905.5,748.05 M908.5,746.39 L911.5,745.06 M914.5,743.77 L916.5,742.92 L917.5,742.63 M920.5,741.74 L923.5,741.28 M926.5,740.89 L928.5,740.65 L929.5,740.50 M932.5,740.02 L935.5,739.84 M938.5,739.85 L940.5,739.93 L941.5,739.97 M944.5,740.09 L947.5,740.17 M950.5,740.40 L952.5,740.62 L953.5,740.78 M956.5,741.27 L959.5,741.76 M962.5,742.26 L964.5,742.60 L965.5,742.89 M968.5,743.76 L971.5,744.74 M974.5,745.79 L976.5,746.51 L977.5,746.98 M980.5,748.39 L983.5,749.70 M986.5,750.80 L988.5,751.45 L989.5,751.54 M992.5,751.81 L995.5,751.56 M998.5,750.99 L1000.5,750.51 L1001.5,750.07 M1004.5,748.74 L1007.5,747.13 M1010.5,745.41 L1012.5,744.23 L1013.5,743.52 M1016.5,741.42 L1019.5,739.12 M1022.5,736.81 L1024.5,735.27 L1025.5,734.67 M1028.5,732.84 L1031.5,731.07 M1034.5,729.50 L1036.5,728.52 L1037.5,728.12 M1040.5,726.94 L1043.5,725.45 M1046.5,723.82 L1048.5,722.68 L1049.5,721.97 M1052.5,719.84 L1055.5,717.81 M1058.5,715.99 L1060.5,714.85 L1061.5,714.37 M1064.5,712.94 L1067.5,711.71 M1070.5,710.57 L1072.5,709.84 L1073.5,709.53 M1076.5,708.61 L1079.5,708.27 M1082.5,708.13 L1084.5,708.10 L1085.5,708.29 M1088.5,708.87 L1091.5,709.60 M1094.5,710.35 L1096.5,710.86 L1097.5,711.06 M1100.5,711.67 L1103.5,712.17 M1106.5,712.49 L1108.5,712.65 L1109.5,712.60 M1112.5,712.43 L1115.5,712.00 M1118.5,711.53 L1120.5,711.19 L1121.5,710.88 M1124.5,709.93 L1127.5,708.71 M1130.5,707.42 L1132.5,706.54 L1133.5,706.01 M1136.5,704.44 L1139.5,702.86 M1142.5,701.36 L1144.5,700.39 L1145.5,700.08 M1148.5,699.13 L1151.5,698.66 M1154.5,698.39 L1156.5,698.28 L1157.5,698.37 M1160.5,698.63 L1163.5,699.29 M1166.5,700.03 L1168.5,700.55 L1169.5,700.92 M1172.5,702.02 L1175.5,703.38 M1178.5,704.99 L1180.5,706.15 L1181.5,706.76 M1184.5,708.62 L1187.5,710.42 M1190.5,712.20 L1192.5,713.37 L1193.5,714.04 M1196.5,716.06 L1199.5,718.34 M1202.5,720.83 L1204.5,722.55 L1205.5,723.44 M1208.5,726.10 L1211.5,728.71 M1214.5,731.20 L1216.5,732.82 L1217.5,733.61 M1220.5,735.98 L1223.5,738.21 M1226.5,740.42 L1228.5,741.89 L1229.5,742.57 M1232.5,744.64 L1235.5,746.40 M1238.5,747.91 L1240.5,748.83 L1241.5,749.21 M1244.5,750.33 L1247.5,751.10 M1250.5,751.65 L1252.5,751.94 L1253.5,752.02 M1256.5,752.27 L1259.5,752.89 M1262.5,753.65 L1264.5,754.20 L1265.5,754.48 M1268.5,755.31 L1268.5,755.31" fill="none" stroke="#ff0000" stroke-width="1" shape-rendering="crispEdges"/>
<rect x="1597" y="51" width="2" height="1" fill="#000"/>
<text x="1602" y="55" font-family="Liberation Sans" font-size="9.6" fill="#000" font-weight="normal" text-anchor="start" textLength="32" lengthAdjust="spacingAndGlyphs" stroke="#000" stroke-width="0.2">7.19890</text>
<rect x="1597" y="84" width="2" height="1" fill="#000"/>
<text x="1602" y="88" font-family="Liberation Sans" font-size="9.6" fill="#000" font-weight="normal" text-anchor="start" textLength="32" lengthAdjust="spacingAndGlyphs" stroke="#000" stroke-width="0.2">7.14790</text>
<rect x="1597" y="117" width="2" height="1" fill="#000"/>
<text x="1602" y="121" font-family="Liberation Sans" font-size="9.6" fill="#000" font-weight="normal" text-anchor="start" textLength="32" lengthAdjust="spacingAndGlyphs" stroke="#000" stroke-width="0.2">7.09690</text>
<rect x="1597" y="150" width="2" height="1" fill="#000"/>
<text x="1602" y="154" font-family="Liberation Sans" font-size="9.6" fill="#000" font-weight="normal" text-anchor="start" textLength="32" lengthAdjust="spacingAndGlyphs" stroke="#000" stroke-width="0.2">7.04590</text>
<rect x="1597" y="183" width="2" height="1" fill="#000"/>
<text x="1602" y="187" font-family="Liberation Sans" font-size="9.6" fill="#000" font-weight="normal" text-anchor="start" textLength="32" lengthAdjust="spacingAndGlyphs" stroke="#000" stroke-width="0.2">6.99490</text>
<rect x="1597" y="216" width="2" height="1" fill="#000"/>
<text x="1602" y="220" font-family="Liberation Sans" font-size="9.6" fill="#000" font-weight="normal" text-anchor="start" textLength="32" lengthAdjust="spacingAndGlyphs" stroke="#000" stroke-width="0.2">6.94390</text>
<rect x="1597" y="249" width="2" height="1" fill="#000"/>
<text x="1602" y="253" font-family="Liberation Sans" font-size="9.6" fill="#000" font-weight="normal" text-anchor="start" textLength="32" lengthAdjust="spacingAndGlyphs" stroke="#000" stroke-width="0.2">6.89290</text>
<rect x="1597" y="282" width="2" height="1" fill="#000"/>
<text x="1602" y="286" font-family="Liberation Sans" font-size="9.6" fill="#000" font-weight="normal" text-anchor="start" textLength="32" lengthAdjust="spacingAndGlyphs" stroke="#000" stroke-width="0.2">6.84190</text>
<rect x="1597" y="315" width="2" height="1" fill="#000"/>
<text x="1602" y="319" font-family="Liberation Sans" font-size="9.6" fill="#000" font-weight="normal" text-anchor="start" textLength="32" lengthAdjust="spacingAndGlyphs" stroke="#000" stroke-width="0.2">6.79090</text>
<rect x="1597" y="348" width="2" height="1" fill="#000"/>
<text x="1602" y="352" font-family="Liberation Sans" font-size="9.6" fill="#000" font-weight="normal" text-anchor="start" textLength="32" lengthAdjust="spacingAndGlyphs" stroke="#000" stroke-width="0.2">6.73990</text>
<rect x="1597" y="381" width="2" height="1" fill="#000"/>
<text x="1602" y="385" font-family="Liberation Sans" font-size="9.6" fill="#000" font-weight="normal" text-anchor="start" textLength="32" lengthAdjust="spacingAndGlyphs" stroke="#000" stroke-width="0.2">6.68890</text>
<rect x="1597" y="414" width="2" height="1" fill="#000"/>
<text x="1602" y="418" font-family="Liberation Sans" font-size="9.6" fill="#000" font-weight="normal" text-anchor="start" textLength="32" lengthAdjust="spacingAndGlyphs" stroke="#000" stroke-width="0.2">6.63790</text>
<rect x="1597" y="447" width="2" height="1" fill="#000"/>
<text x="1602" y="451" font-family="Liberation Sans" font-size="9.6" fill="#000" font-weight="normal" text-anchor="start" textLength="32" lengthAdjust="spacingAndGlyphs" stroke="#000" stroke-width="0.2">6.58690</text>
<rect x="1597" y="480" width="2" height="1" fill="#000"/>
<text x="1602" y="484" font-family="Liberation Sans" font-size="9.6" fill="#000" font-weight="normal" text-anchor="start" textLength="32" lengthAdjust="spacingAndGlyphs" stroke="#000" stroke-width="0.2">6.53590</text>
<rect x="1597" y="513" width="2" height="1" fill="#000"/>
<text x="1602" y="517" font-family="Liberation Sans" font-size="9.6" fill="#000" font-weight="normal" text-anchor="start" textLength="32" lengthAdjust="spacingAndGlyphs" stroke="#000" stroke-width="0.2">6.48490</text>
<rect x="1597" y="546" width="2" height="1" fill="#000"/>
<text x="1602" y="550" font-family="Liberation Sans" font-size="9.6" fill="#000" font-weight="normal" text-anchor="start" textLength="32" lengthAdjust="spacingAndGlyphs" stroke="#000" stroke-width="0.2">6.43540</text>
<rect x="1597" y="579" width="2" height="1" fill="#000"/>
<text x="1602" y="583" font-family="Liberation Sans" font-size="9.6" fill="#000" font-weight="normal" text-anchor="start" textLength="32" lengthAdjust="spacingAndGlyphs" stroke="#000" stroke-width="0.2">6.38440</text>
<rect x="1598" y="174" width="40" height="11" fill="#ff0000"/>
<text x="1602" y="183" font-family="Liberation Sans" font-size="9.6" fill="#fff" font-weight="normal" text-anchor="start" textLength="32" lengthAdjust="spacingAndGlyphs">7.00029</text>
<rect x="1598" y="246" width="40" height="11" fill="#ff0000"/>
<text x="1602" y="255" font-family="Liberation Sans" font-size="9.6" fill="#fff" font-weight="normal" text-anchor="start" textLength="32" lengthAdjust="spacingAndGlyphs">6.88897</text>
<rect x="1598" y="328" width="40" height="11" fill="#ff0000"/>
<text x="1602" y="337" font-family="Liberation Sans" font-size="9.6" fill="#fff" font-weight="normal" text-anchor="start" textLength="32" lengthAdjust="spacingAndGlyphs">6.76157</text>
<rect x="1598" y="415" width="40" height="11" fill="#ff0000"/>
<text x="1602" y="424" font-family="Liberation Sans" font-size="9.6" fill="#fff" font-weight="normal" text-anchor="start" textLength="32" lengthAdjust="spacingAndGlyphs">6.62709</text>
<rect x="1598" y="484" width="40" height="11" fill="#00ff00"/>
<text x="1602" y="493" font-family="Liberation Sans" font-size="9.6" fill="#fff" font-weight="normal" text-anchor="start" textLength="32" lengthAdjust="spacingAndGlyphs">6.52138</text>
<rect x="1598" y="548" width="40" height="11" fill="#000000"/>
<text x="1602" y="557" font-family="Liberation Sans" font-size="9.6" fill="#fff" font-weight="normal" text-anchor="start" textLength="32" lengthAdjust="spacingAndGlyphs">6.42334</text>
<rect x="1598" y="562" width="40" height="11" fill="#0000ff"/>
<text x="1602" y="571" font-family="Liberation Sans" font-size="9.6" fill="#fff" font-weight="normal" text-anchor="start" textLength="32" lengthAdjust="spacingAndGlyphs">6.40104</text>
<rect x="1597" y="586" width="1" height="1" fill="#000"/>
<text x="1600" y="595" font-family="Liberation Sans" font-size="9.6" fill="#000" font-weight="normal" text-anchor="start" stroke="#000" stroke-width="0.2">100</text>
<rect x="1597" y="616" width="1" height="1" fill="#000"/>
<text x="1600" y="619" font-family="Liberation Sans" font-size="9.6" fill="#000" font-weight="normal" text-anchor="start" stroke="#000" stroke-width="0.2">70</text>
<rect x="1597" y="655" width="1" height="1" fill="#000"/>
<text x="1600" y="659" font-family="Liberation Sans" font-size="9.6" fill="#000" font-weight="normal" text-anchor="start" stroke="#000" stroke-width="0.2">30</text>
<rect x="1597" y="685" width="1" height="1" fill="#000"/>
<text x="1600" y="683" font-family="Liberation Sans" font-size="9.6" fill="#000" font-weight="normal" text-anchor="start" stroke="#000" stroke-width="0.2">0</text>
<rect x="1597" y="690" width="1" height="1" fill="#000"/>
<text x="1600" y="699" font-family="Liberation Sans" font-size="9.6" fill="#000" font-weight="normal" text-anchor="start" stroke="#000" stroke-width="0.2">0.025623</text>
<rect x="1597" y="728" width="1" height="1" fill="#000"/>
<text x="1600" y="732" font-family="Liberation Sans" font-size="9.6" fill="#000" font-weight="normal" text-anchor="start" stroke="#000" stroke-width="0.2">0.00</text>
<rect x="1597" y="788" width="1" height="1" fill="#000"/>
<text x="1600" y="787" font-family="Liberation Sans" font-size="9.6" fill="#000" font-weight="normal" text-anchor="start" stroke="#000" stroke-width="0.2">-0.040687</text>
<polygon points="7,33 14,33 10.5,37" fill="#000"/>
<text x="19" y="38" font-family="Liberation Sans" font-size="10.2" fill="#000" font-weight="normal" text-anchor="start" textLength="66" lengthAdjust="spacingAndGlyphs">USDCNH,Daily</text>
<text x="91" y="38" font-family="Liberation Sans" font-size="10.2" fill="#000" font-weight="normal" text-anchor="start" textLength="141" lengthAdjust="spacingAndGlyphs">6.41453 6.42440 6.41423 6.42334</text>
<text x="8" y="597" font-family="Liberation Sans" font-size="10.2" fill="#000" font-weight="normal" text-anchor="start" textLength="67.5" lengthAdjust="spacingAndGlyphs">RSI(14) 26.6119</text>
<text x="8" y="701" font-family="Liberation Sans" font-size="10.2" fill="#000" font-weight="normal" text-anchor="start" textLength="154" lengthAdjust="spacingAndGlyphs">MACD(12,26,9) -0.023064 -0.017534</text>
<rect x="4" y="790" width="1" height="3" fill="#000"/>
<text x="3" y="802" font-family="Liberation Sans" font-size="10" fill="#000" font-weight="normal" text-anchor="start" textLength="48.1" lengthAdjust="spacingAndGlyphs" stroke="#000" stroke-width="0.3">5 May 2020</text>
<rect x="68" y="790" width="1" height="3" fill="#000"/>
<text x="67" y="802" font-family="Liberation Sans" font-size="10" fill="#000" font-weight="normal" text-anchor="start" textLength="53.2" lengthAdjust="spacingAndGlyphs" stroke="#000" stroke-width="0.3">23 May 2020</text>
<rect x="132" y="790" width="1" height="3" fill="#000"/>
<text x="131" y="802" font-family="Liberation Sans" font-size="10" fill="#000" font-weight="normal" text-anchor="start" textLength="50.0" lengthAdjust="spacingAndGlyphs" stroke="#000" stroke-width="0.3">11 Jun 2020</text>
<rect x="196" y="790" width="1" height="3" fill="#000"/>
<text x="195" y="802" font-family="Liberation Sans" font-size="10" fill="#000" font-weight="normal" text-anchor="start" textLength="50.6" lengthAdjust="spacingAndGlyphs" stroke="#000" stroke-width="0.3">30 Jun 2020</text>
<rect x="260" y="790" width="1" height="3" fill="#000"/>
<text x="259" y="802" font-family="Liberation Sans" font-size="10" fill="#000" font-weight="normal" text-anchor="start" textLength="47.6" lengthAdjust="spacingAndGlyphs" stroke="#000" stroke-width="0.3">18 Jul 2020</text>
<rect x="324" y="790" width="1" height="3" fill="#000"/>
<text x="323" y="802" font-family="Liberation Sans" font-size="10" fill="#000" font-weight="normal" text-anchor="start" textLength="46.6" lengthAdjust="spacingAndGlyphs" stroke="#000" stroke-width="0.3">6 Aug 2020</text>
<rect x="388" y="790" width="1" height="3" fill="#000"/>
<text x="387" y="802" font-family="Liberation Sans" font-size="10" fill="#000" font-weight="normal" text-anchor="start" textLength="51.7" lengthAdjust="spacingAndGlyphs" stroke="#000" stroke-width="0.3">25 Aug 2020</text>
<rect x="452" y="790" width="1" height="3" fill="#000"/>
<text x="451" y="802" font-family="Liberation Sans" font-size="10" fill="#000" font-weight="normal" text-anchor="start" textLength="52.2" lengthAdjust="spacingAndGlyphs" stroke="#000" stroke-width="0.3">12 Sep 2020</text>
<rect x="516" y="790" width="1" height="3" fill="#000"/>
<text x="515" y="802" font-family="Liberation Sans" font-size="10" fill="#000" font-weight="normal" text-anchor="start" textLength="45.0" lengthAdjust="spacingAndGlyphs" stroke="#000" stroke-width="0.3">1 Oct 2020</text>
<rect x="580" y="790" width="1" height="3" fill="#000"/>
<text x="579" y="802" font-family="Liberation Sans" font-size="10" fill="#000" font-weight="normal" text-anchor="start" textLength="50.1" lengthAdjust="spacingAndGlyphs" stroke="#000" stroke-width="0.3">20 Oct 2020</text>
<rect x="644" y="790" width="1" height="3" fill="#000"/>
<text x="643" y="802" font-family="Liberation Sans" font-size="10" fill="#000" font-weight="normal" text-anchor="start" textLength="47.0" lengthAdjust="spacingAndGlyphs" stroke="#000" stroke-width="0.3">7 Nov 2020</text>
<rect x="708" y="790" width="1" height="3" fill="#000"/>
<text x="707" y="802" font-family="Liberation Sans" font-size="10" fill="#000" font-weight="normal" text-anchor="start" textLength="52.2" lengthAdjust="spacingAndGlyphs" stroke="#000" stroke-width="0.3">26 Nov 2020</text>
<rect x="772" y="790" width="1" height="3" fill="#000"/>
<text x="771" y="802" font-family="Liberation Sans" font-size="10" fill="#000" font-weight="normal" text-anchor="start" textLength="52.2" lengthAdjust="spacingAndGlyphs" stroke="#000" stroke-width="0.3">15 Dec 2020</text>
<rect x="836" y="790" width="1" height="3" fill="#000"/>
<text x="835" y="802" font-family="Liberation Sans" font-size="10" fill="#000" font-weight="normal" text-anchor="start" textLength="45.5" lengthAdjust="spacingAndGlyphs" stroke="#000" stroke-width="0.3">4 Jan 2021</text>
<rect x="900" y="790" width="1" height="3" fill="#000"/>
<text x="899" y="802" font-family="Liberation Sans" font-size="10" fill="#000" font-weight="normal" text-anchor="start" textLength="50.6" lengthAdjust="spacingAndGlyphs" stroke="#000" stroke-width="0.3">22 Jan 2021</text>
<rect x="964" y="790" width="1" height="3" fill="#000"/>
<text x="963" y="802" font-family="Liberation Sans" font-size="10" fill="#000" font-weight="normal" text-anchor="start" textLength="51.7" lengthAdjust="spacingAndGlyphs" stroke="#000" stroke-width="0.3">10 Feb 2021</text>
<rect x="1028" y="790" width="1" height="3" fill="#000"/>
<text x="1027" y="802" font-family="Liberation Sans" font-size="10" fill="#000" font-weight="normal" text-anchor="start" textLength="46.6" lengthAdjust="spacingAndGlyphs" stroke="#000" stroke-width="0.3">1 Mar 2021</text>
<rect x="1092" y="790" width="1" height="3" fill="#000"/>
<text x="1091" y="802" font-family="Liberation Sans" font-size="10" fill="#000" font-weight="normal" text-anchor="start" textLength="51.6" lengthAdjust="spacingAndGlyphs" stroke="#000" stroke-width="0.3">19 Mar 2021</text>
<rect x="1156" y="790" width="1" height="3" fill="#000"/>
<text x="1155" y="802" font-family="Liberation Sans" font-size="10" fill="#000" font-weight="normal" text-anchor="start" textLength="44.5" lengthAdjust="spacingAndGlyphs" stroke="#000" stroke-width="0.3">7 Apr 2021</text>
<rect x="1220" y="790" width="1" height="3" fill="#000"/>
<text x="1219" y="802" font-family="Liberation Sans" font-size="10" fill="#000" font-weight="normal" text-anchor="start" textLength="49.6" lengthAdjust="spacingAndGlyphs" stroke="#000" stroke-width="0.3">26 Apr 2021</text>
<path d="M0,4.8 L1.2,4.8 L3,7.2 L0,8.6 Z" fill="#444" stroke="#fff" stroke-width="0.6" paint-order="stroke"/>
<path d="M4.6,8.6 L0,13.4" stroke="#fff" stroke-width="2.8"/>
<path d="M4.6,8.6 L0,13.4" stroke="#3c3c3c" stroke-width="1.5"/>
<polygon points="3.2,13.4 5.3,12 7.5,12 10,13.4 6.4,17" fill="#505050" stroke="#fff" stroke-width="0.7" paint-order="stroke"/>
<polygon points="17,9 22,9 19.5,12" fill="#000" stroke="#fff" stroke-width="0.6" paint-order="stroke"/>
<rect x="28" y="0" width="1" height="22" fill="#a0a0a0"/>
<rect x="29" y="0" width="1" height="22" fill="#ffffff"/>
<rect x="32" y="1" width="3" height="1" fill="#a8a8a8"/>
<rect x="32" y="3" width="3" height="1" fill="#a8a8a8"/>
<rect x="32" y="5" width="3" height="1" fill="#a8a8a8"/>
<rect x="32" y="7" width="3" height="1" fill="#a8a8a8"/>
<rect x="32" y="9" width="3" height="1" fill="#a8a8a8"/>
<rect x="32" y="11" width="3" height="1" fill="#a8a8a8"/>
<rect x="32" y="13" width="3" height="1" fill="#a8a8a8"/>
<rect x="32" y="15" width="3" height="1" fill="#a8a8a8"/>
<rect x="32" y="17" width="3" height="1" fill="#a8a8a8"/>
<rect x="32" y="19" width="3" height="1" fill="#a8a8a8"/>
<rect x="207" y="0" width="24" height="20" fill="#f8f8f8"/>
<rect x="206" y="0" width="1" height="20" fill="#a0a0a0"/>
<rect x="206" y="20" width="26" height="1" fill="#ffffff"/>
<text x="44" y="14" font-family="Liberation Sans" font-size="10" fill="#333" font-weight="normal" text-anchor="start" textLength="12" lengthAdjust="spacingAndGlyphs">M1</text>
<text x="72" y="14" font-family="Liberation Sans" font-size="10" fill="#333" font-weight="normal" text-anchor="start" textLength="12.4" lengthAdjust="spacingAndGlyphs">M5</text>
<text x="98" y="14" font-family="Liberation Sans" font-size="10" fill="#333" font-weight="normal" text-anchor="start" textLength="17.5" lengthAdjust="spacingAndGlyphs">M15</text>
<text x="126" y="14" font-family="Liberation Sans" font-size="10" fill="#333" font-weight="normal" text-anchor="start" textLength="17.4" lengthAdjust="spacingAndGlyphs">M30</text>
<text x="157" y="14" font-family="Liberation Sans" font-size="10" fill="#333" font-weight="normal" text-anchor="start" textLength="11" lengthAdjust="spacingAndGlyphs">H1</text>
<text x="184" y="14" font-family="Liberation Sans" font-size="10" fill="#333" font-weight="normal" text-anchor="start" textLength="12" lengthAdjust="spacingAndGlyphs">H4</text>
<text x="213" y="14" font-family="Liberation Sans" font-size="10" fill="#333" font-weight="normal" text-anchor="start" textLength="11" lengthAdjust="spacingAndGlyphs">D1</text>
<text x="240" y="14" font-family="Liberation Sans" font-size="10" fill="#333" font-weight="normal" text-anchor="start" textLength="14" lengthAdjust="spacingAndGlyphs">W1</text>
<text x="267" y="14" font-family="Liberation Sans" font-size="10" fill="#333" font-weight="normal" text-anchor="start" textLength="14" lengthAdjust="spacingAndGlyphs">MN</text>
<rect x="289" y="0" width="1" height="22" fill="#a0a0a0"/>
<rect x="290" y="0" width="1" height="22" fill="#ffffff"/>
<rect x="0" y="810" width="1638" height="1" fill="#e3e3e3"/>
<rect x="0" y="811" width="1638" height="1" fill="#fafafa"/>
<rect x="0" y="812" width="1638" height="1" fill="#000"/>
<rect x="0" y="813" width="1638" height="20" fill="#f0f0f0"/>
<rect x="0" y="832" width="1638" height="1" fill="#f7f7f7"/>
<rect x="0" y="810" width="1" height="24" fill="#6a6a6a"/>
<rect x="418" y="812" width="102" height="18" fill="#ffffff"/>
<rect x="417" y="812" width="1" height="19" fill="#000"/>
<rect x="520" y="812" width="1" height="19" fill="#000"/>
<rect x="417" y="830" width="104" height="1" fill="#000"/>
<text x="18" y="827" font-family="Liberation Sans" font-size="12.3" fill="#6d6d6d" font-weight="normal" text-anchor="start" textLength="79" lengthAdjust="spacingAndGlyphs">EURUSD,Daily</text>
<text x="119" y="827" font-family="Liberation Sans" font-size="12.3" fill="#6d6d6d" font-weight="normal" text-anchor="start" textLength="79" lengthAdjust="spacingAndGlyphs">USDCHF,Daily</text>
<text x="220" y="827" font-family="Liberation Sans" font-size="12.3" fill="#6d6d6d" font-weight="normal" text-anchor="start" textLength="82" lengthAdjust="spacingAndGlyphs">AUDUSD,Daily</text>
<text x="324" y="827" font-family="Liberation Sans" font-size="12.3" fill="#6d6d6d" font-weight="normal" text-anchor="start" textLength="81" lengthAdjust="spacingAndGlyphs">USDCAD,Daily</text>
<text x="427" y="827" font-family="Liberation Sans" font-size="12.3" fill="#000" font-weight="normal" text-anchor="start" textLength="83" lengthAdjust="spacingAndGlyphs">USDCNH,Daily</text>
<text x="533" y="827" font-family="Liberation Sans" font-size="12.3" fill="#6d6d6d" font-weight="normal" text-anchor="start" textLength="79" lengthAdjust="spacingAndGlyphs">EURUSD,Daily</text>
<text x="637" y="827" font-family="Liberation Sans" font-size="12.3" fill="#6d6d6d" font-weight="normal" text-anchor="start" textLength="80" lengthAdjust="spacingAndGlyphs">GBPUSD,Daily</text>
<text x="740" y="827" font-family="Liberation Sans" font-size="12.3" fill="#6d6d6d" font-weight="normal" text-anchor="start" textLength="69" lengthAdjust="spacingAndGlyphs">XAUUSD,H4</text>
<text x="834" y="827" font-family="Liberation Sans" font-size="12.3" fill="#6d6d6d" font-weight="normal" text-anchor="start" textLength="59" lengthAdjust="spacingAndGlyphs">HK50,M15</text>
<text x="916" y="827" font-family="Liberation Sans" font-size="12.3" fill="#6d6d6d" font-weight="normal" text-anchor="start" textLength="56.5" lengthAdjust="spacingAndGlyphs">UK100,H1</text>
<text x="996" y="827" font-family="Liberation Sans" font-size="12.3" fill="#6d6d6d" font-weight="normal" text-anchor="start" textLength="56.5" lengthAdjust="spacingAndGlyphs">UK100,H1</text>
<text x="1076" y="827" font-family="Liberation Sans" font-size="12.3" fill="#6d6d6d" font-weight="normal" text-anchor="start" textLength="56" lengthAdjust="spacingAndGlyphs">GER30,H1</text>
<text x="1156" y="827" font-family="Liberation Sans" font-size="12.3" fill="#6d6d6d" font-weight="normal" text-anchor="start" textLength="53.5" lengthAdjust="spacingAndGlyphs">FRA40,H1</text>
<text x="1231" y="827" font-family="Liberation Sans" font-size="12.3" fill="#6d6d6d" font-weight="normal" text-anchor="start" textLength="51" lengthAdjust="spacingAndGlyphs">USOil,H1</text>
<text x="1303" y="827" font-family="Liberation Sans" font-size="12.3" fill="#6d6d6d" font-weight="normal" text-anchor="start" textLength="63" lengthAdjust="spacingAndGlyphs">USDJPY,H1</text>
<text x="1388" y="827" font-family="Liberation Sans" font-size="12.3" fill="#6d6d6d" font-weight="normal" text-anchor="start" textLength="73" lengthAdjust="spacingAndGlyphs">DJ30,Weekly</text>
<text x="1483" y="827" font-family="Liberation Sans" font-size="12.3" fill="#6d6d6d" font-weight="normal" text-anchor="start" textLength="78" lengthAdjust="spacingAndGlyphs">CHINA300,H1</text>
<text x="1583" y="827" font-family="Liberation Sans" font-size="12.3" fill="#6d6d6d" font-weight="normal" text-anchor="start" textLength="23" lengthAdjust="spacingAndGlyphs">USC</text>
<rect x="110" y="815" width="1" height="14" fill="#808080"/>
<rect x="210" y="815" width="1" height="14" fill="#808080"/>
<rect x="313" y="815" width="1" height="14" fill="#808080"/>
<rect x="625" y="815" width="1" height="14" fill="#808080"/>
<rect x="729" y="815" width="1" height="14" fill="#808080"/>
<rect x="821" y="815" width="1" height="14" fill="#808080"/>
<rect x="905" y="815" width="1" height="14" fill="#808080"/>
<rect x="985" y="815" width="1" height="14" fill="#808080"/>
<rect x="1065" y="815" width="1" height="14" fill="#808080"/>
<rect x="1145" y="815" width="1" height="14" fill="#808080"/>
<rect x="1222" y="815" width="1" height="14" fill="#808080"/>
<rect x="1294" y="815" width="1" height="14" fill="#808080"/>
<rect x="1378" y="815" width="1" height="14" fill="#808080"/>
<rect x="1474" y="815" width="1" height="14" fill="#808080"/>
<rect x="1574" y="815" width="1" height="14" fill="#808080"/>
<polygon points="1615,818 1615,825 1611.5,821.5" fill="#a0a0a0"/>
<polygon points="1631,818 1631,825 1634.5,821.5" fill="#000"/></svg>
</body></html>
